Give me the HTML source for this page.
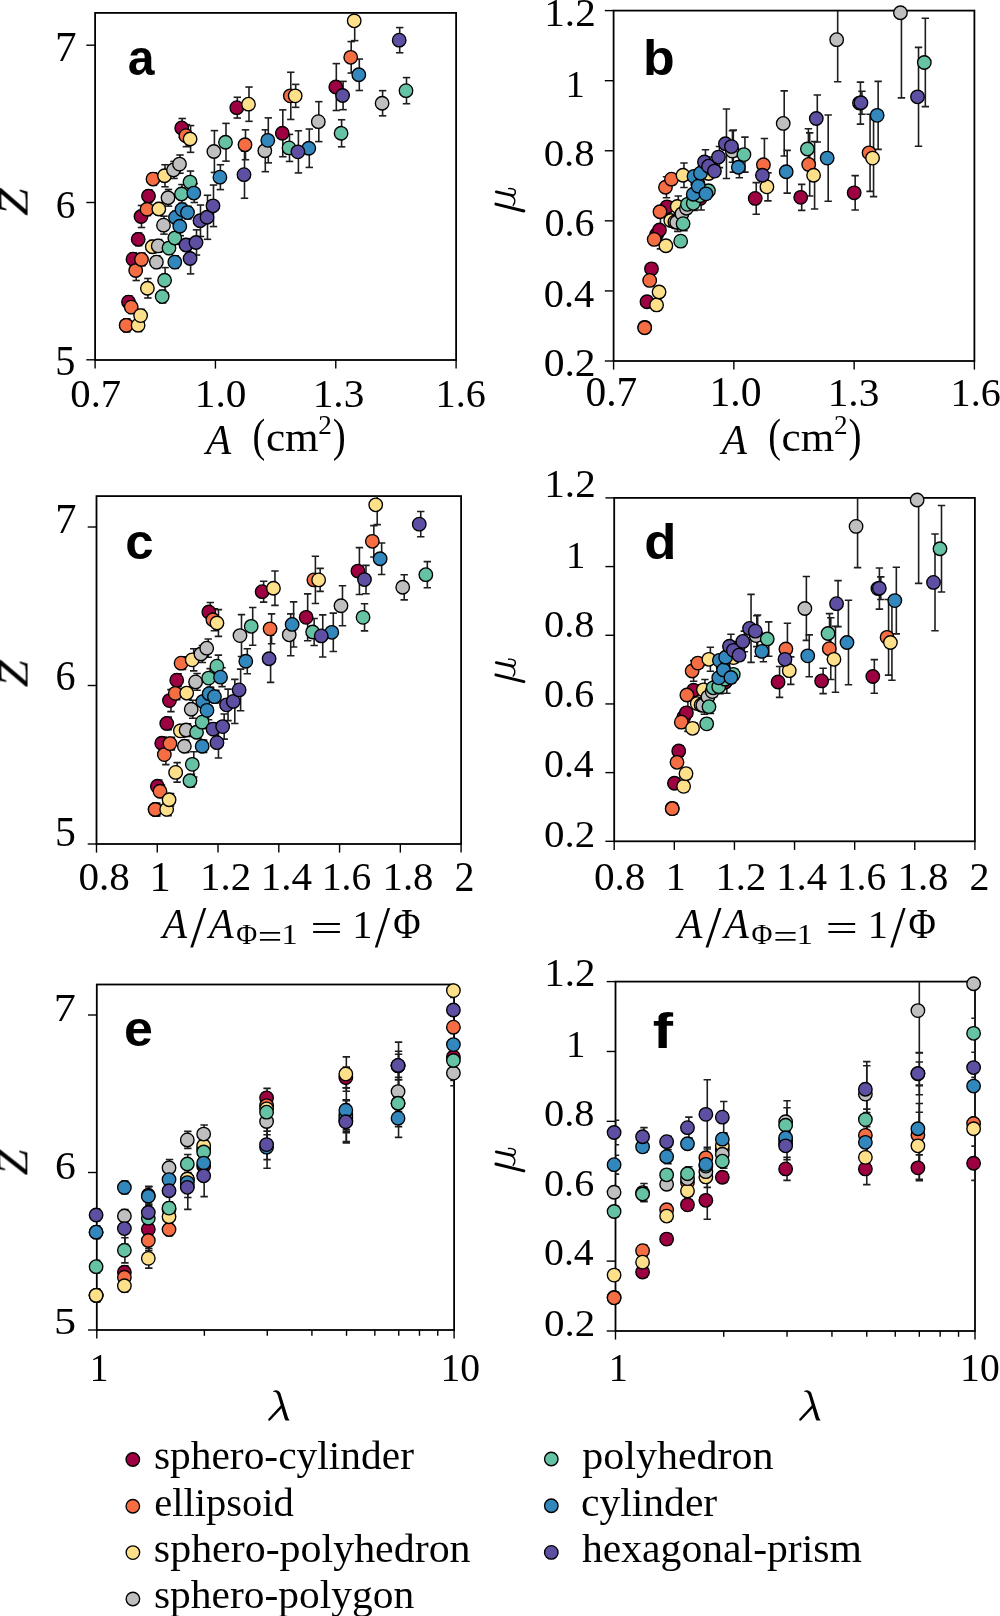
<!DOCTYPE html>
<html><head><meta charset="utf-8"><style>
html,body{margin:0;padding:0;background:#fff;}
svg{display:block;}

</style></head><body>
<svg width="1000" height="1616" viewBox="0 0 1000 1616">
<rect width="1000" height="1616" fill="#fff"/>
<rect x="95.10" y="12.90" width="361.00" height="347.10" fill="none" stroke="#000" stroke-width="1.8"/>
<rect x="613.60" y="10.60" width="360.80" height="350.40" fill="none" stroke="#000" stroke-width="1.8"/>
<rect x="96.50" y="496.10" width="364.60" height="347.90" fill="none" stroke="#000" stroke-width="1.8"/>
<rect x="614.20" y="497.90" width="360.70" height="343.40" fill="none" stroke="#000" stroke-width="1.8"/>
<rect x="96.80" y="984.50" width="357.30" height="345.50" fill="none" stroke="#000" stroke-width="1.8"/>
<rect x="615.50" y="981.60" width="359.50" height="349.40" fill="none" stroke="#000" stroke-width="1.8"/>
<line x1="86.30" y1="359.80" x2="95.10" y2="359.80" stroke="#000" stroke-width="1.4"/>
<line x1="86.30" y1="202.50" x2="95.10" y2="202.50" stroke="#000" stroke-width="1.4"/>
<line x1="86.30" y1="45.20" x2="95.10" y2="45.20" stroke="#000" stroke-width="1.4"/>
<line x1="95.10" y1="360.00" x2="95.10" y2="368.60" stroke="#000" stroke-width="1.4"/>
<line x1="215.43" y1="360.00" x2="215.43" y2="368.60" stroke="#000" stroke-width="1.4"/>
<line x1="335.77" y1="360.00" x2="335.77" y2="368.60" stroke="#000" stroke-width="1.4"/>
<line x1="456.10" y1="360.00" x2="456.10" y2="368.60" stroke="#000" stroke-width="1.4"/>
<line x1="604.80" y1="361.00" x2="613.60" y2="361.00" stroke="#000" stroke-width="1.4"/>
<line x1="604.80" y1="290.92" x2="613.60" y2="290.92" stroke="#000" stroke-width="1.4"/>
<line x1="604.80" y1="220.84" x2="613.60" y2="220.84" stroke="#000" stroke-width="1.4"/>
<line x1="604.80" y1="150.76" x2="613.60" y2="150.76" stroke="#000" stroke-width="1.4"/>
<line x1="604.80" y1="80.68" x2="613.60" y2="80.68" stroke="#000" stroke-width="1.4"/>
<line x1="604.80" y1="10.60" x2="613.60" y2="10.60" stroke="#000" stroke-width="1.4"/>
<line x1="613.60" y1="361.00" x2="613.60" y2="369.60" stroke="#000" stroke-width="1.4"/>
<line x1="733.87" y1="361.00" x2="733.87" y2="369.60" stroke="#000" stroke-width="1.4"/>
<line x1="854.13" y1="361.00" x2="854.13" y2="369.60" stroke="#000" stroke-width="1.4"/>
<line x1="974.40" y1="361.00" x2="974.40" y2="369.60" stroke="#000" stroke-width="1.4"/>
<line x1="87.70" y1="844.00" x2="96.50" y2="844.00" stroke="#000" stroke-width="1.4"/>
<line x1="87.70" y1="685.50" x2="96.50" y2="685.50" stroke="#000" stroke-width="1.4"/>
<line x1="87.70" y1="527.00" x2="96.50" y2="527.00" stroke="#000" stroke-width="1.4"/>
<line x1="96.50" y1="844.00" x2="96.50" y2="852.60" stroke="#000" stroke-width="1.4"/>
<line x1="157.27" y1="844.00" x2="157.27" y2="852.60" stroke="#000" stroke-width="1.4"/>
<line x1="218.03" y1="844.00" x2="218.03" y2="852.60" stroke="#000" stroke-width="1.4"/>
<line x1="278.80" y1="844.00" x2="278.80" y2="852.60" stroke="#000" stroke-width="1.4"/>
<line x1="339.57" y1="844.00" x2="339.57" y2="852.60" stroke="#000" stroke-width="1.4"/>
<line x1="400.33" y1="844.00" x2="400.33" y2="852.60" stroke="#000" stroke-width="1.4"/>
<line x1="461.10" y1="844.00" x2="461.10" y2="852.60" stroke="#000" stroke-width="1.4"/>
<line x1="605.40" y1="841.30" x2="614.20" y2="841.30" stroke="#000" stroke-width="1.4"/>
<line x1="605.40" y1="772.62" x2="614.20" y2="772.62" stroke="#000" stroke-width="1.4"/>
<line x1="605.40" y1="703.94" x2="614.20" y2="703.94" stroke="#000" stroke-width="1.4"/>
<line x1="605.40" y1="635.26" x2="614.20" y2="635.26" stroke="#000" stroke-width="1.4"/>
<line x1="605.40" y1="566.58" x2="614.20" y2="566.58" stroke="#000" stroke-width="1.4"/>
<line x1="605.40" y1="497.90" x2="614.20" y2="497.90" stroke="#000" stroke-width="1.4"/>
<line x1="614.20" y1="841.30" x2="614.20" y2="849.90" stroke="#000" stroke-width="1.4"/>
<line x1="674.32" y1="841.30" x2="674.32" y2="849.90" stroke="#000" stroke-width="1.4"/>
<line x1="734.43" y1="841.30" x2="734.43" y2="849.90" stroke="#000" stroke-width="1.4"/>
<line x1="794.55" y1="841.30" x2="794.55" y2="849.90" stroke="#000" stroke-width="1.4"/>
<line x1="854.67" y1="841.30" x2="854.67" y2="849.90" stroke="#000" stroke-width="1.4"/>
<line x1="914.78" y1="841.30" x2="914.78" y2="849.90" stroke="#000" stroke-width="1.4"/>
<line x1="974.90" y1="841.30" x2="974.90" y2="849.90" stroke="#000" stroke-width="1.4"/>
<line x1="88.00" y1="1330.00" x2="96.80" y2="1330.00" stroke="#000" stroke-width="1.4"/>
<line x1="88.00" y1="1172.50" x2="96.80" y2="1172.50" stroke="#000" stroke-width="1.4"/>
<line x1="88.00" y1="1015.00" x2="96.80" y2="1015.00" stroke="#000" stroke-width="1.4"/>
<line x1="96.80" y1="1330.00" x2="96.80" y2="1338.60" stroke="#000" stroke-width="1.4"/>
<line x1="454.10" y1="1330.00" x2="454.10" y2="1338.60" stroke="#000" stroke-width="1.4"/>
<line x1="204.36" y1="1330.00" x2="204.36" y2="1335.80" stroke="#000" stroke-width="1.4"/>
<line x1="267.28" y1="1330.00" x2="267.28" y2="1335.80" stroke="#000" stroke-width="1.4"/>
<line x1="311.92" y1="1330.00" x2="311.92" y2="1335.80" stroke="#000" stroke-width="1.4"/>
<line x1="346.54" y1="1330.00" x2="346.54" y2="1335.80" stroke="#000" stroke-width="1.4"/>
<line x1="374.83" y1="1330.00" x2="374.83" y2="1335.80" stroke="#000" stroke-width="1.4"/>
<line x1="398.75" y1="1330.00" x2="398.75" y2="1335.80" stroke="#000" stroke-width="1.4"/>
<line x1="419.47" y1="1330.00" x2="419.47" y2="1335.80" stroke="#000" stroke-width="1.4"/>
<line x1="437.75" y1="1330.00" x2="437.75" y2="1335.80" stroke="#000" stroke-width="1.4"/>
<line x1="606.70" y1="1331.00" x2="615.50" y2="1331.00" stroke="#000" stroke-width="1.4"/>
<line x1="606.70" y1="1261.12" x2="615.50" y2="1261.12" stroke="#000" stroke-width="1.4"/>
<line x1="606.70" y1="1191.24" x2="615.50" y2="1191.24" stroke="#000" stroke-width="1.4"/>
<line x1="606.70" y1="1121.36" x2="615.50" y2="1121.36" stroke="#000" stroke-width="1.4"/>
<line x1="606.70" y1="1051.48" x2="615.50" y2="1051.48" stroke="#000" stroke-width="1.4"/>
<line x1="606.70" y1="981.60" x2="615.50" y2="981.60" stroke="#000" stroke-width="1.4"/>
<line x1="615.50" y1="1331.00" x2="615.50" y2="1339.60" stroke="#000" stroke-width="1.4"/>
<line x1="975.00" y1="1331.00" x2="975.00" y2="1339.60" stroke="#000" stroke-width="1.4"/>
<line x1="723.72" y1="1331.00" x2="723.72" y2="1336.80" stroke="#000" stroke-width="1.4"/>
<line x1="787.03" y1="1331.00" x2="787.03" y2="1336.80" stroke="#000" stroke-width="1.4"/>
<line x1="831.94" y1="1331.00" x2="831.94" y2="1336.80" stroke="#000" stroke-width="1.4"/>
<line x1="866.78" y1="1331.00" x2="866.78" y2="1336.80" stroke="#000" stroke-width="1.4"/>
<line x1="895.25" y1="1331.00" x2="895.25" y2="1336.80" stroke="#000" stroke-width="1.4"/>
<line x1="919.31" y1="1331.00" x2="919.31" y2="1336.80" stroke="#000" stroke-width="1.4"/>
<line x1="940.16" y1="1331.00" x2="940.16" y2="1336.80" stroke="#000" stroke-width="1.4"/>
<line x1="958.55" y1="1331.00" x2="958.55" y2="1336.80" stroke="#000" stroke-width="1.4"/>
<g style="opacity:0.999"><text transform="matrix(1.0545 0.0000 0.0000 1.0430 55.1000 61.1000)" font-family="Liberation Serif" font-size="41">7</text>
<text transform="matrix(0.9600 0.0000 0.0000 1.0018 55.8200 218.1495)" font-family="Liberation Serif" font-size="41">6</text>
<text transform="matrix(0.9818 0.0000 0.0000 1.0222 55.3455 374.5444)" font-family="Liberation Serif" font-size="41">5</text>
<text transform="matrix(0.9938 0.0000 0.0000 0.9910 70.3093 406.5045)" font-family="Liberation Serif" font-size="41">0.7</text>
<text transform="matrix(1.0076 0.0000 0.0000 0.9910 194.7735 406.5045)" font-family="Liberation Serif" font-size="41">1.0</text>
<text transform="matrix(1.0076 0.0000 0.0000 0.9964 312.6735 406.5018)" font-family="Liberation Serif" font-size="41">1.3</text>
<text transform="matrix(0.9806 0.0000 0.0000 0.9964 435.5677 406.5018)" font-family="Liberation Serif" font-size="41">1.6</text>
<text transform="matrix(1.0073 0.0000 0.0000 1.0481 206.0664 453.5000)" font-family="Liberation Serif" font-style="italic" font-size="41">A</text>
<text transform="matrix(0.9333 0.0000 0.0000 1.1297 252.5667 451.1149)" font-family="Liberation Serif" font-size="41">(</text>
<text transform="matrix(1.0521 0.0000 0.0000 1.0359 265.9219 450.7410)" font-family="Liberation Serif" font-size="41">cm</text>
<text transform="matrix(0.9362 0.0000 0.0000 0.9195 318.3298 434.2000)" font-family="Liberation Serif" font-size="29">2</text>
<text transform="matrix(0.9524 0.0000 0.0000 1.1297 332.8095 451.1149)" font-family="Liberation Serif" font-size="41">)</text>
<text transform="matrix(0.0000 -1.2133 1.0430 0.0000 27.3000 215.9067)" font-family="Liberation Serif" font-style="italic" font-size="41">Z</text>
<text transform="matrix(0.9431 0.0000 0.0000 0.9821 127.7853 75.3089)" font-family="Liberation Sans" font-weight="bold" font-size="51">a</text>
<text transform="matrix(1.0044 0.0000 0.0000 1.0000 544.2846 26.3000)" font-family="Liberation Serif" font-size="41">1.2</text>
<text transform="matrix(0.9448 0.0000 0.0000 0.9481 565.5931 96.8000)" font-family="Liberation Serif" font-size="41">1</text>
<text transform="matrix(0.9948 0.0000 0.0000 0.9261 543.7078 165.8369)" font-family="Liberation Serif" font-size="41">0.8</text>
<text transform="matrix(0.9794 0.0000 0.0000 0.9694 544.4309 236.0153)" font-family="Liberation Serif" font-size="41">0.6</text>
<text transform="matrix(0.9837 0.0000 0.0000 0.9730 543.7245 306.5135)" font-family="Liberation Serif" font-size="41">0.4</text>
<text transform="matrix(1.0147 0.0000 0.0000 0.9550 543.6779 375.5225)" font-family="Liberation Serif" font-size="41">0.2</text>
<text transform="matrix(1.0103 0.0000 0.0000 1.0090 585.4845 406.4955)" font-family="Liberation Serif" font-size="41">0.7</text>
<text transform="matrix(1.0162 0.0000 0.0000 1.0090 709.4432 406.4955)" font-family="Liberation Serif" font-size="41">1.0</text>
<text transform="matrix(1.0097 0.0000 0.0000 0.9818 827.6659 406.4091)" font-family="Liberation Serif" font-size="41">1.3</text>
<text transform="matrix(0.9806 0.0000 0.0000 0.9818 950.5677 406.4091)" font-family="Liberation Serif" font-size="41">1.6</text>
<text transform="matrix(1.0073 0.0000 0.0000 1.0481 721.6664 453.5000)" font-family="Liberation Serif" font-style="italic" font-size="41">A</text>
<text transform="matrix(0.9333 0.0000 0.0000 1.1297 768.1667 451.1149)" font-family="Liberation Serif" font-size="41">(</text>
<text transform="matrix(1.0521 0.0000 0.0000 1.0359 781.5219 450.7410)" font-family="Liberation Serif" font-size="41">cm</text>
<text transform="matrix(0.9362 0.0000 0.0000 0.9195 833.9298 434.2000)" font-family="Liberation Serif" font-size="29">2</text>
<text transform="matrix(0.9524 0.0000 0.0000 1.1297 848.4095 451.1149)" font-family="Liberation Serif" font-size="41">)</text>
<text transform="matrix(1.0175 0.0000 0.0000 0.9813 642.8932 75.1093)" font-family="Liberation Sans" font-weight="bold" font-size="51">b</text>
<text transform="matrix(1.0364 0.0000 0.0000 1.0318 55.2500 532.7000)" font-family="Liberation Serif" font-size="41">7</text>
<text transform="matrix(0.9771 0.0000 0.0000 1.0239 55.4900 689.9440)" font-family="Liberation Serif" font-size="41">6</text>
<text transform="matrix(1.0182 0.0000 0.0000 1.0444 54.9545 846.2389)" font-family="Liberation Serif" font-size="41">5</text>
<text transform="matrix(1.0031 0.0000 0.0000 0.9838 78.4953 890.3081)" font-family="Liberation Serif" font-size="41">0.8</text>
<text transform="matrix(1.0345 0.0000 0.0000 1.0111 149.3793 890.8000)" font-family="Liberation Serif" font-size="41">1</text>
<text transform="matrix(0.9978 0.0000 0.0000 0.9927 200.1077 890.3036)" font-family="Liberation Serif" font-size="41">1.2</text>
<text transform="matrix(1.0021 0.0000 0.0000 0.9927 260.6926 890.3036)" font-family="Liberation Serif" font-size="41">1.4</text>
<text transform="matrix(0.9656 0.0000 0.0000 0.9927 321.7204 890.3036)" font-family="Liberation Serif" font-size="41">1.6</text>
<text transform="matrix(0.9946 0.0000 0.0000 0.9838 382.5189 890.3081)" font-family="Liberation Serif" font-size="41">1.8</text>
<text transform="matrix(0.9758 0.0000 0.0000 1.0111 454.3924 890.8000)" font-family="Liberation Serif" font-size="41">2</text>
<text transform="matrix(0.9818 0.0000 0.0000 1.0444 162.4091 937.5000)" font-family="Liberation Serif" font-style="italic" font-size="41">A</text>
<text transform="matrix(1.4044 0.0000 0.0000 1.4459 190.2000 946.8385)" font-family="Liberation Serif" font-size="41">/</text>
<text transform="matrix(0.9818 0.0000 0.0000 1.0444 208.9091 937.5000)" font-family="Liberation Serif" font-style="italic" font-size="41">A</text>
<text transform="matrix(0.9870 0.0000 0.0000 1.0421 236.2130 943.8000)" font-family="Liberation Serif" font-size="29">Φ</text>
<text transform="matrix(1.4963 0.0000 0.0000 1.1862 257.7556 947.9172)" font-family="Liberation Serif" font-size="29">=</text>
<text transform="matrix(1.1122 0.0000 0.0000 0.9895 281.4195 943.5000)" font-family="Liberation Serif" font-size="29">1</text>
<text transform="matrix(1.4053 0.0000 0.0000 0.9463 310.1895 940.5439)" font-family="Liberation Serif" font-size="41">=</text>
<text transform="matrix(0.9862 0.0000 0.0000 1.0000 352.2483 938.0000)" font-family="Liberation Serif" font-size="41">1</text>
<text transform="matrix(1.3511 0.0000 0.0000 1.4569 374.8000 947.1358)" font-family="Liberation Serif" font-size="41">/</text>
<text transform="matrix(0.9127 0.0000 0.0000 1.0430 393.1591 938.0000)" font-family="Liberation Serif" font-size="41">Φ</text>
<text transform="matrix(0.0000 -1.1911 1.0430 0.0000 27.3000 687.3956)" font-family="Liberation Serif" font-style="italic" font-size="41">Z</text>
<text transform="matrix(1.0020 0.0000 0.0000 0.9643 125.1960 558.7179)" font-family="Liberation Sans" font-weight="bold" font-size="51">c</text>
<text transform="matrix(1.0044 0.0000 0.0000 0.9745 544.2846 497.3127)" font-family="Liberation Serif" font-size="41">1.2</text>
<text transform="matrix(0.9448 0.0000 0.0000 0.9074 565.8931 567.6000)" font-family="Liberation Serif" font-size="41">1</text>
<text transform="matrix(0.9845 0.0000 0.0000 0.9369 544.0233 636.5315)" font-family="Liberation Serif" font-size="41">0.8</text>
<text transform="matrix(0.9794 0.0000 0.0000 0.9730 544.0309 707.3135)" font-family="Liberation Serif" font-size="41">0.6</text>
<text transform="matrix(0.9694 0.0000 0.0000 0.9946 544.0459 777.3027)" font-family="Liberation Serif" font-size="41">0.4</text>
<text transform="matrix(1.0000 0.0000 0.0000 0.9189 544.0000 846.6405)" font-family="Liberation Serif" font-size="41">0.2</text>
<text transform="matrix(1.0073 0.0000 0.0000 0.9622 593.8891 889.5189)" font-family="Liberation Serif" font-size="41">0.8</text>
<text transform="matrix(0.9931 0.0000 0.0000 0.9889 665.5241 890.0000)" font-family="Liberation Serif" font-size="41">1</text>
<text transform="matrix(0.9890 0.0000 0.0000 0.9709 715.5385 889.5145)" font-family="Liberation Serif" font-size="41">1.2</text>
<text transform="matrix(0.9915 0.0000 0.0000 0.9709 776.2298 889.5145)" font-family="Liberation Serif" font-size="41">1.4</text>
<text transform="matrix(0.9656 0.0000 0.0000 0.9709 836.7204 889.5145)" font-family="Liberation Serif" font-size="41">1.6</text>
<text transform="matrix(0.9946 0.0000 0.0000 0.9622 897.5189 889.5189)" font-family="Liberation Serif" font-size="41">1.8</text>
<text transform="matrix(0.9758 0.0000 0.0000 0.9889 969.3924 890.0000)" font-family="Liberation Serif" font-size="41">2</text>
<text transform="matrix(0.9818 0.0000 0.0000 1.0444 677.8091 937.7000)" font-family="Liberation Serif" font-style="italic" font-size="41">A</text>
<text transform="matrix(1.4044 0.0000 0.0000 1.4459 705.6000 947.0385)" font-family="Liberation Serif" font-size="41">/</text>
<text transform="matrix(0.9818 0.0000 0.0000 1.0444 724.3091 937.7000)" font-family="Liberation Serif" font-style="italic" font-size="41">A</text>
<text transform="matrix(0.9870 0.0000 0.0000 1.0421 751.6130 944.0000)" font-family="Liberation Serif" font-size="29">Φ</text>
<text transform="matrix(1.4963 0.0000 0.0000 1.1862 773.1556 948.1172)" font-family="Liberation Serif" font-size="29">=</text>
<text transform="matrix(1.1122 0.0000 0.0000 0.9895 796.8195 943.7000)" font-family="Liberation Serif" font-size="29">1</text>
<text transform="matrix(1.4053 0.0000 0.0000 0.9463 825.5895 940.7439)" font-family="Liberation Serif" font-size="41">=</text>
<text transform="matrix(0.9862 0.0000 0.0000 1.0000 867.6483 938.2000)" font-family="Liberation Serif" font-size="41">1</text>
<text transform="matrix(1.3511 0.0000 0.0000 1.4569 890.2000 947.3358)" font-family="Liberation Serif" font-size="41">/</text>
<text transform="matrix(0.9127 0.0000 0.0000 1.0430 908.5591 938.2000)" font-family="Liberation Serif" font-size="41">Φ</text>
<text transform="matrix(1.0330 0.0000 0.0000 0.9867 644.3340 558.9067)" font-family="Liberation Sans" font-weight="bold" font-size="51">d</text>
<text transform="matrix(1.0788 0.0000 0.0000 0.9981 53.8333 1021.2000)" font-family="Liberation Serif" font-size="41">7</text>
<text transform="matrix(1.0171 0.0000 0.0000 0.9798 55.0200 1179.0550)" font-family="Liberation Serif" font-size="41">6</text>
<text transform="matrix(1.0788 0.0000 0.0000 0.9481 54.1030 1333.8630)" font-family="Liberation Serif" font-size="41">5</text>
<text transform="matrix(0.9103 0.0000 0.0000 0.9852 89.8138 1380.6000)" font-family="Liberation Serif" font-size="41">1</text>
<text transform="matrix(0.9667 0.0000 0.0000 0.9927 440.4167 1381.0518)" font-family="Liberation Serif" font-size="41">10</text>
<text transform="matrix(0.0000 -1.1422 1.0617 0.0000 27.8000 1175.4711)" font-family="Liberation Serif" font-style="italic" font-size="41">Z</text>
<text transform="matrix(1.0204 0.0000 0.0000 0.9714 123.9592 1045.7143)" font-family="Liberation Sans" font-weight="bold" font-size="51">e</text>
<text transform="matrix(0.9978 0.0000 0.0000 0.9745 544.3077 986.3127)" font-family="Liberation Serif" font-size="41">1.2</text>
<text transform="matrix(0.9448 0.0000 0.0000 0.9222 565.8931 1056.7000)" font-family="Liberation Serif" font-size="41">1</text>
<text transform="matrix(0.9845 0.0000 0.0000 0.9405 544.0233 1125.6297)" font-family="Liberation Serif" font-size="41">0.8</text>
<text transform="matrix(0.9794 0.0000 0.0000 0.9333 544.0309 1196.0333)" font-family="Liberation Serif" font-size="41">0.6</text>
<text transform="matrix(0.9694 0.0000 0.0000 0.9189 544.0459 1265.4405)" font-family="Liberation Serif" font-size="41">0.4</text>
<text transform="matrix(1.0000 0.0000 0.0000 0.9189 544.0000 1335.8405)" font-family="Liberation Serif" font-size="41">0.2</text>
<text transform="matrix(0.9310 0.0000 0.0000 0.9630 608.7414 1381.0000)" font-family="Liberation Serif" font-size="41">1</text>
<text transform="matrix(0.9667 0.0000 0.0000 0.9927 960.1167 1381.0518)" font-family="Liberation Serif" font-size="41">10</text>
<text transform="matrix(1.1938 0.0000 0.0000 0.9946 652.7046 1048.0000)" font-family="Liberation Sans" font-weight="bold" font-size="51">f</text>
<text transform="matrix(1.0365 0 0 1 153.886 1468.700)" font-family="Liberation Serif" font-size="40">sphero-cylinder</text>
<text transform="matrix(1.0129 0 0 1 154.181 1516.000)" font-family="Liberation Serif" font-size="40">ellipsoid</text>
<text transform="matrix(1.0485 0 0 1 153.865 1561.800)" font-family="Liberation Serif" font-size="40">sphero-polyhedron</text>
<text transform="matrix(1.0376 0 0 1 153.884 1608.300)" font-family="Liberation Serif" font-size="40">sphero-polygon</text>
<text transform="matrix(1.0512 0 0 1 582.212 1468.700)" font-family="Liberation Serif" font-size="40">polyhedron</text>
<text transform="matrix(1.0398 0 0 1 580.940 1516.000)" font-family="Liberation Serif" font-size="40">cylinder</text>
<text transform="matrix(1.0416 0 0 1 581.979 1561.800)" font-family="Liberation Serif" font-size="40">hexagonal-prism</text></g>
<circle cx="132.8" cy="1459.5" r="6.75" fill="#9e0142" stroke="#000" stroke-width="1.35"/>
<circle cx="132.8" cy="1506.2" r="6.75" fill="#f46d43" stroke="#000" stroke-width="1.35"/>
<circle cx="132.9" cy="1552.6" r="6.75" fill="#fee08b" stroke="#000" stroke-width="1.35"/>
<circle cx="132.9" cy="1599.0" r="6.75" fill="#bfbfbf" stroke="#000" stroke-width="1.35"/>
<circle cx="551.3" cy="1459.0" r="6.75" fill="#66c2a5" stroke="#000" stroke-width="1.35"/>
<circle cx="551.3" cy="1505.7" r="6.75" fill="#3288bd" stroke="#000" stroke-width="1.35"/>
<circle cx="551.3" cy="1552.4" r="6.75" fill="#5e4fa2" stroke="#000" stroke-width="1.35"/>
<g transform="translate(0,0.0)" fill="none" stroke="#000" stroke-linecap="round"><path d="M495.9,204.1 L523.9,211.0" stroke-width="2.9"/><path d="M496.3,191.9 L512.6,195.5" stroke-width="2.8"/><path d="M512.4,195.6 C516.0,195.0 516.3,190.4 513.4,189.2 C511.6,188.5 509.8,188.3 508.6,188.6" stroke-width="1.4"/><path d="M511.4,196.0 C515.2,197.6 516.0,201.8 513.2,205.4" stroke-width="1.4"/></g>
<g transform="translate(0,470.7)" fill="none" stroke="#000" stroke-linecap="round"><path d="M495.9,204.1 L523.9,211.0" stroke-width="2.9"/><path d="M496.3,191.9 L512.6,195.5" stroke-width="2.8"/><path d="M512.4,195.6 C516.0,195.0 516.3,190.4 513.4,189.2 C511.6,188.5 509.8,188.3 508.6,188.6" stroke-width="1.4"/><path d="M511.4,196.0 C515.2,197.6 516.0,201.8 513.2,205.4" stroke-width="1.4"/></g>
<g transform="translate(0,959.9)" fill="none" stroke="#000" stroke-linecap="round"><path d="M495.9,204.1 L523.9,211.0" stroke-width="2.9"/><path d="M496.3,191.9 L512.6,195.5" stroke-width="2.8"/><path d="M512.4,195.6 C516.0,195.0 516.3,190.4 513.4,189.2 C511.6,188.5 509.8,188.3 508.6,188.6" stroke-width="1.4"/><path d="M511.4,196.0 C515.2,197.6 516.0,201.8 513.2,205.4" stroke-width="1.4"/></g>
<g transform="translate(0.0,0)"><path d="M273.0,1391.2 C275.5,1389.4 278.6,1389.9 280.3,1393.0 L288.0,1417.8 C288.5,1419.0 289.2,1419.6 289.6,1420.4 L285.6,1420.6 C285.2,1420.0 284.8,1419.4 284.5,1418.6 L278.0,1396.0 C277.0,1392.8 275.6,1391.6 273.4,1391.9 Z" fill="#000"/><path d="M281.6,1406.4 L269.4,1419.5" fill="none" stroke="#000" stroke-width="2.45" stroke-linecap="round"/></g>
<g transform="translate(531.0,0)"><path d="M273.0,1391.2 C275.5,1389.4 278.6,1389.9 280.3,1393.0 L288.0,1417.8 C288.5,1419.0 289.2,1419.6 289.6,1420.4 L285.6,1420.6 C285.2,1420.0 284.8,1419.4 284.5,1418.6 L278.0,1396.0 C277.0,1392.8 275.6,1391.6 273.4,1391.9 Z" fill="#000"/><path d="M281.6,1406.4 L269.4,1419.5" fill="none" stroke="#000" stroke-width="2.45" stroke-linecap="round"/></g>
<clipPath id="clipa"><rect x="95.10" y="12.90" width="361.00" height="347.10"/></clipPath>
<g stroke="#1e1e1e" stroke-width="1.6" fill="none" clip-path="url(#clipa)"><line x1="126.70" y1="319.06" x2="126.70" y2="331.64"/><line x1="123.00" y1="319.06" x2="130.40" y2="319.06"/><line x1="123.00" y1="331.64" x2="130.40" y2="331.64"/><line x1="129.00" y1="295.78" x2="129.00" y2="308.36"/><line x1="125.30" y1="295.78" x2="132.70" y2="295.78"/><line x1="125.30" y1="308.36" x2="132.70" y2="308.36"/><line x1="133.50" y1="252.84" x2="133.50" y2="265.42"/><line x1="129.80" y1="252.84" x2="137.20" y2="252.84"/><line x1="129.80" y1="265.42" x2="137.20" y2="265.42"/><line x1="138.70" y1="233.02" x2="138.70" y2="245.60"/><line x1="135.00" y1="233.02" x2="142.40" y2="233.02"/><line x1="135.00" y1="245.60" x2="142.40" y2="245.60"/><line x1="141.50" y1="205.49" x2="141.50" y2="227.51"/><line x1="137.80" y1="205.49" x2="145.20" y2="205.49"/><line x1="137.80" y1="227.51" x2="145.20" y2="227.51"/><line x1="149.00" y1="189.76" x2="149.00" y2="202.34"/><line x1="145.30" y1="189.76" x2="152.70" y2="189.76"/><line x1="145.30" y1="202.34" x2="152.70" y2="202.34"/><line x1="182.20" y1="118.50" x2="182.20" y2="137.38"/><line x1="178.50" y1="118.50" x2="185.90" y2="118.50"/><line x1="178.50" y1="137.38" x2="185.90" y2="137.38"/><line x1="237.30" y1="97.27" x2="237.30" y2="118.03"/><line x1="233.60" y1="97.27" x2="241.00" y2="97.27"/><line x1="233.60" y1="118.03" x2="241.00" y2="118.03"/><line x1="282.80" y1="109.85" x2="282.80" y2="156.73"/><line x1="279.10" y1="109.85" x2="286.50" y2="109.85"/><line x1="279.10" y1="156.73" x2="286.50" y2="156.73"/><line x1="336.30" y1="63.60" x2="336.30" y2="110.48"/><line x1="332.60" y1="63.60" x2="340.00" y2="63.60"/><line x1="332.60" y1="110.48" x2="340.00" y2="110.48"/><line x1="126.70" y1="319.06" x2="126.70" y2="331.64"/><line x1="123.00" y1="319.06" x2="130.40" y2="319.06"/><line x1="123.00" y1="331.64" x2="130.40" y2="331.64"/><line x1="131.70" y1="300.81" x2="131.70" y2="313.40"/><line x1="128.00" y1="300.81" x2="135.40" y2="300.81"/><line x1="128.00" y1="313.40" x2="135.40" y2="313.40"/><line x1="136.20" y1="260.39" x2="136.20" y2="280.52"/><line x1="132.50" y1="260.39" x2="139.90" y2="260.39"/><line x1="132.50" y1="280.52" x2="139.90" y2="280.52"/><line x1="142.00" y1="253.15" x2="142.00" y2="265.73"/><line x1="138.30" y1="253.15" x2="145.70" y2="253.15"/><line x1="138.30" y1="265.73" x2="145.70" y2="265.73"/><line x1="147.50" y1="202.97" x2="147.50" y2="215.56"/><line x1="143.80" y1="202.97" x2="151.20" y2="202.97"/><line x1="143.80" y1="215.56" x2="151.20" y2="215.56"/><line x1="153.50" y1="172.77" x2="153.50" y2="185.35"/><line x1="149.80" y1="172.77" x2="157.20" y2="172.77"/><line x1="149.80" y1="185.35" x2="157.20" y2="185.35"/><line x1="186.40" y1="124.64" x2="186.40" y2="146.66"/><line x1="182.70" y1="124.64" x2="190.10" y2="124.64"/><line x1="182.70" y1="146.66" x2="190.10" y2="146.66"/><line x1="245.50" y1="129.83" x2="245.50" y2="159.71"/><line x1="241.80" y1="129.83" x2="249.20" y2="129.83"/><line x1="241.80" y1="159.71" x2="249.20" y2="159.71"/><line x1="290.80" y1="72.26" x2="290.80" y2="119.45"/><line x1="287.10" y1="72.26" x2="294.50" y2="72.26"/><line x1="287.10" y1="119.45" x2="294.50" y2="119.45"/><line x1="351.20" y1="41.58" x2="351.20" y2="73.04"/><line x1="347.50" y1="41.58" x2="354.90" y2="41.58"/><line x1="347.50" y1="73.04" x2="354.90" y2="73.04"/><line x1="138.60" y1="318.90" x2="138.60" y2="331.49"/><line x1="134.90" y1="318.90" x2="142.30" y2="318.90"/><line x1="134.90" y1="331.49" x2="142.30" y2="331.49"/><line x1="141.10" y1="309.31" x2="141.10" y2="321.89"/><line x1="137.40" y1="309.31" x2="144.80" y2="309.31"/><line x1="137.40" y1="321.89" x2="144.80" y2="321.89"/><line x1="147.90" y1="278.48" x2="147.90" y2="297.98"/><line x1="144.20" y1="278.48" x2="151.60" y2="278.48"/><line x1="144.20" y1="297.98" x2="151.60" y2="297.98"/><line x1="152.80" y1="240.41" x2="152.80" y2="252.99"/><line x1="149.10" y1="240.41" x2="156.50" y2="240.41"/><line x1="149.10" y1="252.99" x2="156.50" y2="252.99"/><line x1="159.30" y1="202.66" x2="159.30" y2="215.24"/><line x1="155.60" y1="202.66" x2="163.00" y2="202.66"/><line x1="155.60" y1="215.24" x2="163.00" y2="215.24"/><line x1="165.00" y1="164.75" x2="165.00" y2="186.77"/><line x1="161.30" y1="164.75" x2="168.70" y2="164.75"/><line x1="161.30" y1="186.77" x2="168.70" y2="186.77"/><line x1="190.60" y1="125.58" x2="190.60" y2="152.32"/><line x1="186.90" y1="125.58" x2="194.30" y2="125.58"/><line x1="186.90" y1="152.32" x2="194.30" y2="152.32"/><line x1="249.00" y1="87.04" x2="249.00" y2="121.33"/><line x1="245.30" y1="87.04" x2="252.70" y2="87.04"/><line x1="245.30" y1="121.33" x2="252.70" y2="121.33"/><line x1="295.70" y1="84.37" x2="295.70" y2="107.33"/><line x1="292.00" y1="84.37" x2="299.40" y2="84.37"/><line x1="292.00" y1="107.33" x2="299.40" y2="107.33"/><line x1="354.70" y1="12.90" x2="354.70" y2="40.64"/><line x1="351.00" y1="40.64" x2="358.40" y2="40.64"/><line x1="156.90" y1="255.82" x2="156.90" y2="268.41"/><line x1="153.20" y1="255.82" x2="160.60" y2="255.82"/><line x1="153.20" y1="268.41" x2="160.60" y2="268.41"/><line x1="158.70" y1="239.62" x2="158.70" y2="252.21"/><line x1="155.00" y1="239.62" x2="162.40" y2="239.62"/><line x1="155.00" y1="252.21" x2="162.40" y2="252.21"/><line x1="164.00" y1="216.19" x2="164.00" y2="234.12"/><line x1="160.30" y1="216.19" x2="167.70" y2="216.19"/><line x1="160.30" y1="234.12" x2="167.70" y2="234.12"/><line x1="168.50" y1="189.44" x2="168.50" y2="206.12"/><line x1="164.80" y1="189.44" x2="172.20" y2="189.44"/><line x1="164.80" y1="206.12" x2="172.20" y2="206.12"/><line x1="174.00" y1="161.44" x2="174.00" y2="178.43"/><line x1="170.30" y1="161.44" x2="177.70" y2="161.44"/><line x1="170.30" y1="178.43" x2="177.70" y2="178.43"/><line x1="180.00" y1="155.00" x2="180.00" y2="173.24"/><line x1="176.30" y1="155.00" x2="183.70" y2="155.00"/><line x1="176.30" y1="173.24" x2="183.70" y2="173.24"/><line x1="214.40" y1="130.61" x2="214.40" y2="172.46"/><line x1="210.70" y1="130.61" x2="218.10" y2="130.61"/><line x1="210.70" y1="172.46" x2="218.10" y2="172.46"/><line x1="265.30" y1="129.83" x2="265.30" y2="171.67"/><line x1="261.60" y1="129.83" x2="269.00" y2="129.83"/><line x1="261.60" y1="171.67" x2="269.00" y2="171.67"/><line x1="318.80" y1="101.67" x2="318.80" y2="141.62"/><line x1="315.10" y1="101.67" x2="322.50" y2="101.67"/><line x1="315.10" y1="141.62" x2="322.50" y2="141.62"/><line x1="382.60" y1="90.66" x2="382.60" y2="115.83"/><line x1="378.90" y1="90.66" x2="386.30" y2="90.66"/><line x1="378.90" y1="115.83" x2="386.30" y2="115.83"/><line x1="162.70" y1="290.27" x2="162.70" y2="302.86"/><line x1="159.00" y1="290.27" x2="166.40" y2="290.27"/><line x1="159.00" y1="302.86" x2="166.40" y2="302.86"/><line x1="165.10" y1="267.62" x2="165.10" y2="292.79"/><line x1="161.40" y1="267.62" x2="168.80" y2="267.62"/><line x1="161.40" y1="292.79" x2="168.80" y2="292.79"/><line x1="169.50" y1="241.82" x2="169.50" y2="254.41"/><line x1="165.80" y1="241.82" x2="173.20" y2="241.82"/><line x1="165.80" y1="254.41" x2="173.20" y2="254.41"/><line x1="175.30" y1="231.76" x2="175.30" y2="244.34"/><line x1="171.60" y1="231.76" x2="179.00" y2="231.76"/><line x1="171.60" y1="244.34" x2="179.00" y2="244.34"/><line x1="182.00" y1="184.57" x2="182.00" y2="203.44"/><line x1="178.30" y1="184.57" x2="185.70" y2="184.57"/><line x1="178.30" y1="203.44" x2="185.70" y2="203.44"/><line x1="190.50" y1="171.04" x2="190.50" y2="193.06"/><line x1="186.80" y1="171.04" x2="194.20" y2="171.04"/><line x1="186.80" y1="193.06" x2="194.20" y2="193.06"/><line x1="226.00" y1="123.38" x2="226.00" y2="161.13"/><line x1="222.30" y1="123.38" x2="229.70" y2="123.38"/><line x1="222.30" y1="161.13" x2="229.70" y2="161.13"/><line x1="289.50" y1="134.39" x2="289.50" y2="161.44"/><line x1="285.80" y1="134.39" x2="293.20" y2="134.39"/><line x1="285.80" y1="161.44" x2="293.20" y2="161.44"/><line x1="341.60" y1="119.76" x2="341.60" y2="146.82"/><line x1="337.90" y1="119.76" x2="345.30" y2="119.76"/><line x1="337.90" y1="146.82" x2="345.30" y2="146.82"/><line x1="406.50" y1="77.60" x2="406.50" y2="103.72"/><line x1="402.80" y1="77.60" x2="410.20" y2="77.60"/><line x1="402.80" y1="103.72" x2="410.20" y2="103.72"/><line x1="175.30" y1="255.82" x2="175.30" y2="268.41"/><line x1="171.60" y1="255.82" x2="179.00" y2="255.82"/><line x1="171.60" y1="268.41" x2="179.00" y2="268.41"/><line x1="176.00" y1="211.15" x2="176.00" y2="223.74"/><line x1="172.30" y1="211.15" x2="179.70" y2="211.15"/><line x1="172.30" y1="223.74" x2="179.70" y2="223.74"/><line x1="180.30" y1="216.81" x2="180.30" y2="235.69"/><line x1="176.60" y1="216.81" x2="184.00" y2="216.81"/><line x1="176.60" y1="235.69" x2="184.00" y2="235.69"/><line x1="182.50" y1="203.29" x2="182.50" y2="215.87"/><line x1="178.80" y1="203.29" x2="186.20" y2="203.29"/><line x1="178.80" y1="215.87" x2="186.20" y2="215.87"/><line x1="188.00" y1="206.28" x2="188.00" y2="218.86"/><line x1="184.30" y1="206.28" x2="191.70" y2="206.28"/><line x1="184.30" y1="218.86" x2="191.70" y2="218.86"/><line x1="194.30" y1="183.62" x2="194.30" y2="202.50"/><line x1="190.60" y1="183.62" x2="198.00" y2="183.62"/><line x1="190.60" y1="202.50" x2="198.00" y2="202.50"/><line x1="220.40" y1="164.75" x2="220.40" y2="189.60"/><line x1="216.70" y1="164.75" x2="224.10" y2="164.75"/><line x1="216.70" y1="189.60" x2="224.10" y2="189.60"/><line x1="268.30" y1="117.87" x2="268.30" y2="162.86"/><line x1="264.60" y1="117.87" x2="272.00" y2="117.87"/><line x1="264.60" y1="162.86" x2="272.00" y2="162.86"/><line x1="309.30" y1="129.04" x2="309.30" y2="167.42"/><line x1="305.60" y1="129.04" x2="313.00" y2="129.04"/><line x1="305.60" y1="167.42" x2="313.00" y2="167.42"/><line x1="359.30" y1="59.04" x2="359.30" y2="90.50"/><line x1="355.60" y1="59.04" x2="363.00" y2="59.04"/><line x1="355.60" y1="90.50" x2="363.00" y2="90.50"/><line x1="186.50" y1="238.68" x2="186.50" y2="251.26"/><line x1="182.80" y1="238.68" x2="190.20" y2="238.68"/><line x1="182.80" y1="251.26" x2="190.20" y2="251.26"/><line x1="190.60" y1="243.08" x2="190.60" y2="273.91"/><line x1="186.90" y1="243.08" x2="194.30" y2="243.08"/><line x1="186.90" y1="273.91" x2="194.30" y2="273.91"/><line x1="196.50" y1="229.87" x2="196.50" y2="255.04"/><line x1="192.80" y1="229.87" x2="200.20" y2="229.87"/><line x1="192.80" y1="255.04" x2="200.20" y2="255.04"/><line x1="200.50" y1="205.02" x2="200.50" y2="236.48"/><line x1="196.80" y1="205.02" x2="204.20" y2="205.02"/><line x1="196.80" y1="236.48" x2="204.20" y2="236.48"/><line x1="207.50" y1="195.26" x2="207.50" y2="239.31"/><line x1="203.80" y1="195.26" x2="211.20" y2="195.26"/><line x1="203.80" y1="239.31" x2="211.20" y2="239.31"/><line x1="213.50" y1="185.04" x2="213.50" y2="226.57"/><line x1="209.80" y1="185.04" x2="217.20" y2="185.04"/><line x1="209.80" y1="226.57" x2="217.20" y2="226.57"/><line x1="244.50" y1="151.06" x2="244.50" y2="198.25"/><line x1="240.80" y1="151.06" x2="248.20" y2="151.06"/><line x1="240.80" y1="198.25" x2="248.20" y2="198.25"/><line x1="298.40" y1="130.77" x2="298.40" y2="172.93"/><line x1="294.70" y1="130.77" x2="302.10" y2="130.77"/><line x1="294.70" y1="172.93" x2="302.10" y2="172.93"/><line x1="343.10" y1="81.38" x2="343.10" y2="109.69"/><line x1="339.40" y1="81.38" x2="346.80" y2="81.38"/><line x1="339.40" y1="109.69" x2="346.80" y2="109.69"/><line x1="399.70" y1="27.58" x2="399.70" y2="52.75"/><line x1="396.00" y1="27.58" x2="403.40" y2="27.58"/><line x1="396.00" y1="52.75" x2="403.40" y2="52.75"/></g>
<g stroke="#000" stroke-width="1.35"><circle cx="126.20" cy="325.35" r="6.75" fill="#9e0142"/><circle cx="128.50" cy="302.07" r="6.75" fill="#9e0142"/><circle cx="133.00" cy="259.13" r="6.75" fill="#9e0142"/><circle cx="138.20" cy="239.31" r="6.75" fill="#9e0142"/><circle cx="141.00" cy="216.50" r="6.75" fill="#9e0142"/><circle cx="148.50" cy="196.05" r="6.75" fill="#9e0142"/><circle cx="181.70" cy="127.94" r="6.75" fill="#9e0142"/><circle cx="236.80" cy="107.65" r="6.75" fill="#9e0142"/><circle cx="282.30" cy="133.29" r="6.75" fill="#9e0142"/><circle cx="335.80" cy="87.04" r="6.75" fill="#9e0142"/><circle cx="126.20" cy="325.35" r="6.75" fill="#f46d43"/><circle cx="131.20" cy="307.10" r="6.75" fill="#f46d43"/><circle cx="135.70" cy="270.45" r="6.75" fill="#f46d43"/><circle cx="141.50" cy="259.44" r="6.75" fill="#f46d43"/><circle cx="147.00" cy="209.26" r="6.75" fill="#f46d43"/><circle cx="153.00" cy="179.06" r="6.75" fill="#f46d43"/><circle cx="185.90" cy="135.65" r="6.75" fill="#f46d43"/><circle cx="245.00" cy="144.77" r="6.75" fill="#f46d43"/><circle cx="290.30" cy="95.85" r="6.75" fill="#f46d43"/><circle cx="350.70" cy="57.31" r="6.75" fill="#f46d43"/><circle cx="138.10" cy="325.19" r="6.75" fill="#fee08b"/><circle cx="140.60" cy="315.60" r="6.75" fill="#fee08b"/><circle cx="147.40" cy="288.23" r="6.75" fill="#fee08b"/><circle cx="152.30" cy="246.70" r="6.75" fill="#fee08b"/><circle cx="158.80" cy="208.95" r="6.75" fill="#fee08b"/><circle cx="164.50" cy="175.76" r="6.75" fill="#fee08b"/><circle cx="190.10" cy="138.95" r="6.75" fill="#fee08b"/><circle cx="248.50" cy="104.19" r="6.75" fill="#fee08b"/><circle cx="295.20" cy="95.85" r="6.75" fill="#fee08b"/><circle cx="354.20" cy="20.82" r="6.75" fill="#fee08b"/><circle cx="156.40" cy="262.12" r="6.75" fill="#bfbfbf"/><circle cx="158.20" cy="245.91" r="6.75" fill="#bfbfbf"/><circle cx="163.50" cy="225.15" r="6.75" fill="#bfbfbf"/><circle cx="168.00" cy="197.78" r="6.75" fill="#bfbfbf"/><circle cx="173.50" cy="169.94" r="6.75" fill="#bfbfbf"/><circle cx="179.50" cy="164.12" r="6.75" fill="#bfbfbf"/><circle cx="213.90" cy="151.53" r="6.75" fill="#bfbfbf"/><circle cx="264.80" cy="150.75" r="6.75" fill="#bfbfbf"/><circle cx="318.30" cy="121.65" r="6.75" fill="#bfbfbf"/><circle cx="382.10" cy="103.24" r="6.75" fill="#bfbfbf"/><circle cx="162.20" cy="296.57" r="6.75" fill="#66c2a5"/><circle cx="164.60" cy="280.21" r="6.75" fill="#66c2a5"/><circle cx="169.00" cy="248.12" r="6.75" fill="#66c2a5"/><circle cx="174.80" cy="238.05" r="6.75" fill="#66c2a5"/><circle cx="181.50" cy="194.01" r="6.75" fill="#66c2a5"/><circle cx="190.00" cy="182.05" r="6.75" fill="#66c2a5"/><circle cx="225.50" cy="142.25" r="6.75" fill="#66c2a5"/><circle cx="289.00" cy="147.92" r="6.75" fill="#66c2a5"/><circle cx="341.10" cy="133.29" r="6.75" fill="#66c2a5"/><circle cx="406.00" cy="90.66" r="6.75" fill="#66c2a5"/><circle cx="174.80" cy="262.12" r="6.75" fill="#3288bd"/><circle cx="175.50" cy="217.44" r="6.75" fill="#3288bd"/><circle cx="179.80" cy="226.25" r="6.75" fill="#3288bd"/><circle cx="182.00" cy="209.58" r="6.75" fill="#3288bd"/><circle cx="187.50" cy="212.57" r="6.75" fill="#3288bd"/><circle cx="193.80" cy="193.06" r="6.75" fill="#3288bd"/><circle cx="219.90" cy="177.17" r="6.75" fill="#3288bd"/><circle cx="267.80" cy="140.37" r="6.75" fill="#3288bd"/><circle cx="308.80" cy="148.23" r="6.75" fill="#3288bd"/><circle cx="358.80" cy="74.77" r="6.75" fill="#3288bd"/><circle cx="186.00" cy="244.97" r="6.75" fill="#5e4fa2"/><circle cx="190.10" cy="258.50" r="6.75" fill="#5e4fa2"/><circle cx="196.00" cy="242.45" r="6.75" fill="#5e4fa2"/><circle cx="200.00" cy="220.75" r="6.75" fill="#5e4fa2"/><circle cx="207.00" cy="217.29" r="6.75" fill="#5e4fa2"/><circle cx="213.00" cy="205.80" r="6.75" fill="#5e4fa2"/><circle cx="244.00" cy="174.66" r="6.75" fill="#5e4fa2"/><circle cx="297.90" cy="151.85" r="6.75" fill="#5e4fa2"/><circle cx="342.60" cy="95.54" r="6.75" fill="#5e4fa2"/><circle cx="399.20" cy="40.17" r="6.75" fill="#5e4fa2"/></g>
<clipPath id="clipb"><rect x="613.60" y="10.60" width="360.80" height="350.40"/></clipPath>
<g stroke="#1e1e1e" stroke-width="1.6" fill="none" clip-path="url(#clipb)"><line x1="645.68" y1="322.11" x2="645.68" y2="332.62"/><line x1="641.98" y1="322.11" x2="649.38" y2="322.11"/><line x1="641.98" y1="332.62" x2="649.38" y2="332.62"/><line x1="647.98" y1="296.53" x2="647.98" y2="307.04"/><line x1="644.28" y1="296.53" x2="651.68" y2="296.53"/><line x1="644.28" y1="307.04" x2="651.68" y2="307.04"/><line x1="652.48" y1="263.59" x2="652.48" y2="274.10"/><line x1="648.78" y1="263.59" x2="656.18" y2="263.59"/><line x1="648.78" y1="274.10" x2="656.18" y2="274.10"/><line x1="657.68" y1="229.25" x2="657.68" y2="239.76"/><line x1="653.98" y1="229.25" x2="661.38" y2="229.25"/><line x1="653.98" y1="239.76" x2="661.38" y2="239.76"/><line x1="660.47" y1="211.03" x2="660.47" y2="248.87"/><line x1="656.77" y1="211.03" x2="664.17" y2="211.03"/><line x1="656.77" y1="248.87" x2="664.17" y2="248.87"/><line x1="667.97" y1="201.57" x2="667.97" y2="212.08"/><line x1="664.27" y1="201.57" x2="671.67" y2="201.57"/><line x1="664.27" y1="212.08" x2="671.67" y2="212.08"/><line x1="701.15" y1="186.85" x2="701.15" y2="209.98"/><line x1="697.45" y1="186.85" x2="704.85" y2="186.85"/><line x1="697.45" y1="209.98" x2="704.85" y2="209.98"/><line x1="756.22" y1="182.65" x2="756.22" y2="214.18"/><line x1="752.52" y1="182.65" x2="759.92" y2="182.65"/><line x1="752.52" y1="214.18" x2="759.92" y2="214.18"/><line x1="801.70" y1="184.40" x2="801.70" y2="210.33"/><line x1="798.00" y1="184.40" x2="805.40" y2="184.40"/><line x1="798.00" y1="210.33" x2="805.40" y2="210.33"/><line x1="855.17" y1="175.64" x2="855.17" y2="209.98"/><line x1="851.47" y1="175.64" x2="858.87" y2="175.64"/><line x1="851.47" y1="209.98" x2="858.87" y2="209.98"/><line x1="645.68" y1="322.46" x2="645.68" y2="332.97"/><line x1="641.98" y1="322.46" x2="649.38" y2="322.46"/><line x1="641.98" y1="332.97" x2="649.38" y2="332.97"/><line x1="650.68" y1="275.15" x2="650.68" y2="285.66"/><line x1="646.98" y1="275.15" x2="654.38" y2="275.15"/><line x1="646.98" y1="285.66" x2="654.38" y2="285.66"/><line x1="655.18" y1="234.16" x2="655.18" y2="244.67"/><line x1="651.48" y1="234.16" x2="658.88" y2="234.16"/><line x1="651.48" y1="244.67" x2="658.88" y2="244.67"/><line x1="660.97" y1="206.47" x2="660.97" y2="216.99"/><line x1="657.27" y1="206.47" x2="664.67" y2="206.47"/><line x1="657.27" y1="216.99" x2="664.67" y2="216.99"/><line x1="666.47" y1="176.69" x2="666.47" y2="197.71"/><line x1="662.77" y1="176.69" x2="670.17" y2="176.69"/><line x1="662.77" y1="197.71" x2="670.17" y2="197.71"/><line x1="672.47" y1="173.89" x2="672.47" y2="184.40"/><line x1="668.77" y1="173.89" x2="676.17" y2="173.89"/><line x1="668.77" y1="184.40" x2="676.17" y2="184.40"/><line x1="705.35" y1="164.78" x2="705.35" y2="175.29"/><line x1="701.65" y1="164.78" x2="709.05" y2="164.78"/><line x1="701.65" y1="175.29" x2="709.05" y2="175.29"/><line x1="764.42" y1="138.50" x2="764.42" y2="191.06"/><line x1="760.72" y1="138.50" x2="768.12" y2="138.50"/><line x1="760.72" y1="191.06" x2="768.12" y2="191.06"/><line x1="809.69" y1="132.89" x2="809.69" y2="195.96"/><line x1="805.99" y1="132.89" x2="813.39" y2="132.89"/><line x1="805.99" y1="195.96" x2="813.39" y2="195.96"/><line x1="870.06" y1="114.32" x2="870.06" y2="191.41"/><line x1="866.36" y1="114.32" x2="873.76" y2="114.32"/><line x1="866.36" y1="191.41" x2="873.76" y2="191.41"/><line x1="657.58" y1="299.68" x2="657.58" y2="310.19"/><line x1="653.88" y1="299.68" x2="661.28" y2="299.68"/><line x1="653.88" y1="310.19" x2="661.28" y2="310.19"/><line x1="660.07" y1="286.72" x2="660.07" y2="297.23"/><line x1="656.37" y1="286.72" x2="663.77" y2="286.72"/><line x1="656.37" y1="297.23" x2="663.77" y2="297.23"/><line x1="666.87" y1="240.46" x2="666.87" y2="250.97"/><line x1="663.17" y1="240.46" x2="670.57" y2="240.46"/><line x1="663.17" y1="250.97" x2="670.57" y2="250.97"/><line x1="671.77" y1="215.23" x2="671.77" y2="225.75"/><line x1="668.07" y1="215.23" x2="675.47" y2="215.23"/><line x1="668.07" y1="225.75" x2="675.47" y2="225.75"/><line x1="678.26" y1="195.96" x2="678.26" y2="216.99"/><line x1="674.56" y1="195.96" x2="681.96" y2="195.96"/><line x1="674.56" y1="216.99" x2="681.96" y2="216.99"/><line x1="683.96" y1="163.02" x2="683.96" y2="187.55"/><line x1="680.26" y1="163.02" x2="687.66" y2="163.02"/><line x1="680.26" y1="187.55" x2="687.66" y2="187.55"/><line x1="709.55" y1="168.28" x2="709.55" y2="178.79"/><line x1="705.85" y1="168.28" x2="713.25" y2="168.28"/><line x1="705.85" y1="178.79" x2="713.25" y2="178.79"/><line x1="767.92" y1="172.84" x2="767.92" y2="200.87"/><line x1="764.22" y1="172.84" x2="771.62" y2="172.84"/><line x1="764.22" y1="200.87" x2="771.62" y2="200.87"/><line x1="814.59" y1="141.65" x2="814.59" y2="208.93"/><line x1="810.89" y1="141.65" x2="818.29" y2="141.65"/><line x1="810.89" y1="208.93" x2="818.29" y2="208.93"/><line x1="873.56" y1="119.57" x2="873.56" y2="196.66"/><line x1="869.86" y1="119.57" x2="877.26" y2="119.57"/><line x1="869.86" y1="196.66" x2="877.26" y2="196.66"/><line x1="675.87" y1="216.64" x2="675.87" y2="227.15"/><line x1="672.17" y1="216.64" x2="679.57" y2="216.64"/><line x1="672.17" y1="227.15" x2="679.57" y2="227.15"/><line x1="677.67" y1="213.13" x2="677.67" y2="231.35"/><line x1="673.97" y1="213.13" x2="681.37" y2="213.13"/><line x1="673.97" y1="231.35" x2="681.37" y2="231.35"/><line x1="682.96" y1="208.58" x2="682.96" y2="219.09"/><line x1="679.26" y1="208.58" x2="686.66" y2="208.58"/><line x1="679.26" y1="219.09" x2="686.66" y2="219.09"/><line x1="687.46" y1="202.97" x2="687.46" y2="213.48"/><line x1="683.76" y1="202.97" x2="691.16" y2="202.97"/><line x1="683.76" y1="213.48" x2="691.16" y2="213.48"/><line x1="692.96" y1="195.96" x2="692.96" y2="206.47"/><line x1="689.26" y1="195.96" x2="696.66" y2="195.96"/><line x1="689.26" y1="206.47" x2="696.66" y2="206.47"/><line x1="698.95" y1="169.68" x2="698.95" y2="197.71"/><line x1="695.25" y1="169.68" x2="702.65" y2="169.68"/><line x1="695.25" y1="197.71" x2="702.65" y2="197.71"/><line x1="733.33" y1="130.09" x2="733.33" y2="172.13"/><line x1="729.63" y1="130.09" x2="737.03" y2="130.09"/><line x1="729.63" y1="172.13" x2="737.03" y2="172.13"/><line x1="784.21" y1="90.84" x2="784.21" y2="156.02"/><line x1="780.51" y1="90.84" x2="787.91" y2="90.84"/><line x1="780.51" y1="156.02" x2="787.91" y2="156.02"/><line x1="837.68" y1="10.60" x2="837.68" y2="81.73"/><line x1="833.98" y1="81.73" x2="841.38" y2="81.73"/><line x1="901.44" y1="10.60" x2="901.44" y2="97.85"/><line x1="897.74" y1="97.85" x2="905.14" y2="97.85"/><line x1="681.66" y1="235.91" x2="681.66" y2="246.42"/><line x1="677.96" y1="235.91" x2="685.36" y2="235.91"/><line x1="677.96" y1="246.42" x2="685.36" y2="246.42"/><line x1="684.06" y1="216.64" x2="684.06" y2="230.65"/><line x1="680.36" y1="216.64" x2="687.76" y2="216.64"/><line x1="680.36" y1="230.65" x2="687.76" y2="230.65"/><line x1="688.46" y1="199.12" x2="688.46" y2="209.63"/><line x1="684.76" y1="199.12" x2="692.16" y2="199.12"/><line x1="684.76" y1="209.63" x2="692.16" y2="209.63"/><line x1="694.26" y1="196.31" x2="694.26" y2="210.33"/><line x1="690.56" y1="196.31" x2="697.96" y2="196.31"/><line x1="690.56" y1="210.33" x2="697.96" y2="210.33"/><line x1="700.95" y1="190.36" x2="700.95" y2="200.87"/><line x1="697.25" y1="190.36" x2="704.65" y2="190.36"/><line x1="697.25" y1="200.87" x2="704.65" y2="200.87"/><line x1="709.45" y1="185.45" x2="709.45" y2="195.96"/><line x1="705.75" y1="185.45" x2="713.15" y2="185.45"/><line x1="705.75" y1="195.96" x2="713.15" y2="195.96"/><line x1="744.93" y1="137.09" x2="744.93" y2="172.13"/><line x1="741.23" y1="137.09" x2="748.63" y2="137.09"/><line x1="741.23" y1="172.13" x2="748.63" y2="172.13"/><line x1="808.39" y1="128.68" x2="808.39" y2="169.33"/><line x1="804.69" y1="128.68" x2="812.09" y2="128.68"/><line x1="804.69" y1="169.33" x2="812.09" y2="169.33"/><line x1="860.46" y1="82.08" x2="860.46" y2="124.13"/><line x1="856.76" y1="82.08" x2="864.16" y2="82.08"/><line x1="856.76" y1="124.13" x2="864.16" y2="124.13"/><line x1="925.33" y1="18.31" x2="925.33" y2="106.61"/><line x1="921.63" y1="18.31" x2="929.03" y2="18.31"/><line x1="921.63" y1="106.61" x2="929.03" y2="106.61"/><line x1="694.26" y1="184.75" x2="694.26" y2="203.67"/><line x1="690.56" y1="184.75" x2="697.96" y2="184.75"/><line x1="690.56" y1="203.67" x2="697.96" y2="203.67"/><line x1="694.96" y1="171.08" x2="694.96" y2="181.60"/><line x1="691.26" y1="171.08" x2="698.66" y2="171.08"/><line x1="691.26" y1="181.60" x2="698.66" y2="181.60"/><line x1="699.25" y1="179.14" x2="699.25" y2="193.16"/><line x1="695.55" y1="179.14" x2="702.95" y2="179.14"/><line x1="695.55" y1="193.16" x2="702.95" y2="193.16"/><line x1="701.45" y1="167.93" x2="701.45" y2="178.44"/><line x1="697.75" y1="167.93" x2="705.15" y2="167.93"/><line x1="697.75" y1="178.44" x2="705.15" y2="178.44"/><line x1="706.95" y1="188.60" x2="706.95" y2="199.12"/><line x1="703.25" y1="188.60" x2="710.65" y2="188.60"/><line x1="703.25" y1="199.12" x2="710.65" y2="199.12"/><line x1="713.25" y1="163.37" x2="713.25" y2="173.89"/><line x1="709.55" y1="163.37" x2="716.95" y2="163.37"/><line x1="709.55" y1="173.89" x2="716.95" y2="173.89"/><line x1="739.33" y1="156.72" x2="739.33" y2="177.74"/><line x1="735.63" y1="156.72" x2="743.03" y2="156.72"/><line x1="735.63" y1="177.74" x2="743.03" y2="177.74"/><line x1="787.20" y1="150.41" x2="787.20" y2="193.16"/><line x1="783.50" y1="150.41" x2="790.90" y2="150.41"/><line x1="783.50" y1="193.16" x2="790.90" y2="193.16"/><line x1="828.18" y1="115.02" x2="828.18" y2="201.22"/><line x1="824.48" y1="115.02" x2="831.88" y2="115.02"/><line x1="824.48" y1="201.22" x2="831.88" y2="201.22"/><line x1="878.15" y1="81.38" x2="878.15" y2="149.36"/><line x1="874.45" y1="81.38" x2="881.85" y2="81.38"/><line x1="874.45" y1="149.36" x2="881.85" y2="149.36"/><line x1="705.45" y1="149.71" x2="705.45" y2="174.24"/><line x1="701.75" y1="149.71" x2="709.15" y2="149.71"/><line x1="701.75" y1="174.24" x2="709.15" y2="174.24"/><line x1="709.55" y1="157.07" x2="709.55" y2="175.29"/><line x1="705.85" y1="157.07" x2="713.25" y2="157.07"/><line x1="705.85" y1="175.29" x2="713.25" y2="175.29"/><line x1="715.44" y1="165.83" x2="715.44" y2="176.34"/><line x1="711.74" y1="165.83" x2="719.14" y2="165.83"/><line x1="711.74" y1="176.34" x2="719.14" y2="176.34"/><line x1="719.44" y1="146.56" x2="719.44" y2="167.58"/><line x1="715.74" y1="146.56" x2="723.14" y2="146.56"/><line x1="715.74" y1="167.58" x2="723.14" y2="167.58"/><line x1="726.44" y1="109.06" x2="726.44" y2="178.44"/><line x1="722.74" y1="109.06" x2="730.14" y2="109.06"/><line x1="722.74" y1="178.44" x2="730.14" y2="178.44"/><line x1="732.43" y1="130.79" x2="732.43" y2="162.32"/><line x1="728.73" y1="130.79" x2="736.13" y2="130.79"/><line x1="728.73" y1="162.32" x2="736.13" y2="162.32"/><line x1="763.42" y1="161.27" x2="763.42" y2="189.30"/><line x1="759.72" y1="161.27" x2="767.12" y2="161.27"/><line x1="759.72" y1="189.30" x2="767.12" y2="189.30"/><line x1="817.29" y1="95.05" x2="817.29" y2="142.00"/><line x1="813.59" y1="95.05" x2="820.99" y2="95.05"/><line x1="813.59" y1="142.00" x2="820.99" y2="142.00"/><line x1="861.96" y1="91.19" x2="861.96" y2="114.32"/><line x1="858.26" y1="91.19" x2="865.66" y2="91.19"/><line x1="858.26" y1="114.32" x2="865.66" y2="114.32"/><line x1="918.53" y1="47.39" x2="918.53" y2="146.20"/><line x1="914.83" y1="47.39" x2="922.23" y2="47.39"/><line x1="914.83" y1="146.20" x2="922.23" y2="146.20"/></g>
<g stroke="#000" stroke-width="1.35"><circle cx="644.68" cy="327.36" r="6.75" fill="#9e0142"/><circle cx="646.98" cy="301.78" r="6.75" fill="#9e0142"/><circle cx="651.48" cy="268.84" r="6.75" fill="#9e0142"/><circle cx="656.68" cy="234.51" r="6.75" fill="#9e0142"/><circle cx="659.47" cy="229.95" r="6.75" fill="#9e0142"/><circle cx="666.97" cy="206.82" r="6.75" fill="#9e0142"/><circle cx="700.15" cy="198.41" r="6.75" fill="#9e0142"/><circle cx="755.22" cy="198.41" r="6.75" fill="#9e0142"/><circle cx="800.70" cy="197.36" r="6.75" fill="#9e0142"/><circle cx="854.17" cy="192.81" r="6.75" fill="#9e0142"/><circle cx="644.68" cy="327.71" r="6.75" fill="#f46d43"/><circle cx="649.68" cy="280.41" r="6.75" fill="#f46d43"/><circle cx="654.18" cy="239.41" r="6.75" fill="#f46d43"/><circle cx="659.97" cy="211.73" r="6.75" fill="#f46d43"/><circle cx="665.47" cy="187.20" r="6.75" fill="#f46d43"/><circle cx="671.47" cy="179.14" r="6.75" fill="#f46d43"/><circle cx="704.35" cy="170.03" r="6.75" fill="#f46d43"/><circle cx="763.42" cy="164.78" r="6.75" fill="#f46d43"/><circle cx="808.69" cy="164.43" r="6.75" fill="#f46d43"/><circle cx="869.06" cy="152.86" r="6.75" fill="#f46d43"/><circle cx="656.58" cy="304.94" r="6.75" fill="#fee08b"/><circle cx="659.07" cy="291.97" r="6.75" fill="#fee08b"/><circle cx="665.87" cy="245.72" r="6.75" fill="#fee08b"/><circle cx="670.77" cy="220.49" r="6.75" fill="#fee08b"/><circle cx="677.26" cy="206.47" r="6.75" fill="#fee08b"/><circle cx="682.96" cy="175.29" r="6.75" fill="#fee08b"/><circle cx="708.55" cy="173.54" r="6.75" fill="#fee08b"/><circle cx="766.92" cy="186.85" r="6.75" fill="#fee08b"/><circle cx="813.59" cy="175.29" r="6.75" fill="#fee08b"/><circle cx="872.56" cy="158.12" r="6.75" fill="#fee08b"/><circle cx="674.87" cy="221.89" r="6.75" fill="#bfbfbf"/><circle cx="676.67" cy="222.24" r="6.75" fill="#bfbfbf"/><circle cx="681.96" cy="213.83" r="6.75" fill="#bfbfbf"/><circle cx="686.46" cy="208.23" r="6.75" fill="#bfbfbf"/><circle cx="691.96" cy="201.22" r="6.75" fill="#bfbfbf"/><circle cx="697.95" cy="183.70" r="6.75" fill="#bfbfbf"/><circle cx="732.33" cy="151.11" r="6.75" fill="#bfbfbf"/><circle cx="783.21" cy="123.43" r="6.75" fill="#bfbfbf"/><circle cx="836.68" cy="39.68" r="6.75" fill="#bfbfbf"/><circle cx="900.44" cy="12.70" r="6.75" fill="#bfbfbf"/><circle cx="680.66" cy="241.16" r="6.75" fill="#66c2a5"/><circle cx="683.06" cy="223.64" r="6.75" fill="#66c2a5"/><circle cx="687.46" cy="204.37" r="6.75" fill="#66c2a5"/><circle cx="693.26" cy="203.32" r="6.75" fill="#66c2a5"/><circle cx="699.95" cy="195.61" r="6.75" fill="#66c2a5"/><circle cx="708.45" cy="190.71" r="6.75" fill="#66c2a5"/><circle cx="743.93" cy="154.61" r="6.75" fill="#66c2a5"/><circle cx="807.39" cy="149.01" r="6.75" fill="#66c2a5"/><circle cx="859.46" cy="103.11" r="6.75" fill="#66c2a5"/><circle cx="924.33" cy="62.46" r="6.75" fill="#66c2a5"/><circle cx="693.26" cy="194.21" r="6.75" fill="#3288bd"/><circle cx="693.96" cy="176.34" r="6.75" fill="#3288bd"/><circle cx="698.25" cy="186.15" r="6.75" fill="#3288bd"/><circle cx="700.45" cy="173.19" r="6.75" fill="#3288bd"/><circle cx="705.95" cy="193.86" r="6.75" fill="#3288bd"/><circle cx="712.25" cy="168.63" r="6.75" fill="#3288bd"/><circle cx="738.33" cy="167.23" r="6.75" fill="#3288bd"/><circle cx="786.20" cy="171.78" r="6.75" fill="#3288bd"/><circle cx="827.18" cy="158.12" r="6.75" fill="#3288bd"/><circle cx="877.15" cy="115.37" r="6.75" fill="#3288bd"/><circle cx="704.45" cy="161.97" r="6.75" fill="#5e4fa2"/><circle cx="708.55" cy="166.18" r="6.75" fill="#5e4fa2"/><circle cx="714.44" cy="171.08" r="6.75" fill="#5e4fa2"/><circle cx="718.44" cy="157.07" r="6.75" fill="#5e4fa2"/><circle cx="725.44" cy="143.75" r="6.75" fill="#5e4fa2"/><circle cx="731.43" cy="146.56" r="6.75" fill="#5e4fa2"/><circle cx="762.42" cy="175.29" r="6.75" fill="#5e4fa2"/><circle cx="816.29" cy="118.52" r="6.75" fill="#5e4fa2"/><circle cx="860.96" cy="102.76" r="6.75" fill="#5e4fa2"/><circle cx="917.53" cy="96.80" r="6.75" fill="#5e4fa2"/></g>
<clipPath id="clipc"><rect x="96.50" y="496.10" width="364.60" height="347.90"/></clipPath>
<g stroke="#1e1e1e" stroke-width="1.6" fill="none" clip-path="url(#clipc)"><line x1="156.65" y1="803.23" x2="156.65" y2="815.83"/><line x1="152.95" y1="803.23" x2="160.35" y2="803.23"/><line x1="152.95" y1="815.83" x2="160.35" y2="815.83"/><line x1="158.87" y1="779.94" x2="158.87" y2="792.53"/><line x1="155.17" y1="779.94" x2="162.57" y2="779.94"/><line x1="155.17" y1="792.53" x2="162.57" y2="792.53"/><line x1="163.22" y1="736.97" x2="163.22" y2="749.56"/><line x1="159.52" y1="736.97" x2="166.92" y2="736.97"/><line x1="159.52" y1="749.56" x2="166.92" y2="749.56"/><line x1="168.25" y1="717.14" x2="168.25" y2="729.73"/><line x1="164.55" y1="717.14" x2="171.95" y2="717.14"/><line x1="164.55" y1="729.73" x2="171.95" y2="729.73"/><line x1="170.96" y1="689.59" x2="170.96" y2="711.63"/><line x1="167.26" y1="689.59" x2="174.66" y2="689.59"/><line x1="167.26" y1="711.63" x2="174.66" y2="711.63"/><line x1="178.22" y1="673.85" x2="178.22" y2="686.44"/><line x1="174.52" y1="673.85" x2="181.92" y2="673.85"/><line x1="174.52" y1="686.44" x2="181.92" y2="686.44"/><line x1="210.34" y1="602.55" x2="210.34" y2="621.44"/><line x1="206.64" y1="602.55" x2="214.04" y2="602.55"/><line x1="206.64" y1="621.44" x2="214.04" y2="621.44"/><line x1="263.64" y1="581.30" x2="263.64" y2="602.08"/><line x1="259.94" y1="581.30" x2="267.34" y2="581.30"/><line x1="259.94" y1="602.08" x2="267.34" y2="602.08"/><line x1="307.66" y1="593.89" x2="307.66" y2="640.80"/><line x1="303.96" y1="593.89" x2="311.36" y2="593.89"/><line x1="303.96" y1="640.80" x2="311.36" y2="640.80"/><line x1="359.41" y1="547.62" x2="359.41" y2="594.52"/><line x1="355.71" y1="547.62" x2="363.11" y2="547.62"/><line x1="355.71" y1="594.52" x2="363.11" y2="594.52"/><line x1="156.65" y1="803.23" x2="156.65" y2="815.83"/><line x1="152.95" y1="803.23" x2="160.35" y2="803.23"/><line x1="152.95" y1="815.83" x2="160.35" y2="815.83"/><line x1="161.48" y1="784.98" x2="161.48" y2="797.57"/><line x1="157.78" y1="784.98" x2="165.18" y2="784.98"/><line x1="157.78" y1="797.57" x2="165.18" y2="797.57"/><line x1="165.84" y1="744.52" x2="165.84" y2="764.67"/><line x1="162.14" y1="744.52" x2="169.54" y2="744.52"/><line x1="162.14" y1="764.67" x2="169.54" y2="764.67"/><line x1="171.45" y1="737.28" x2="171.45" y2="749.87"/><line x1="167.75" y1="737.28" x2="175.15" y2="737.28"/><line x1="167.75" y1="749.87" x2="175.15" y2="749.87"/><line x1="176.77" y1="687.07" x2="176.77" y2="699.66"/><line x1="173.07" y1="687.07" x2="180.47" y2="687.07"/><line x1="173.07" y1="699.66" x2="180.47" y2="699.66"/><line x1="182.57" y1="656.85" x2="182.57" y2="669.44"/><line x1="178.87" y1="656.85" x2="186.27" y2="656.85"/><line x1="178.87" y1="669.44" x2="186.27" y2="669.44"/><line x1="214.40" y1="608.69" x2="214.40" y2="630.72"/><line x1="210.70" y1="608.69" x2="218.10" y2="608.69"/><line x1="210.70" y1="630.72" x2="218.10" y2="630.72"/><line x1="271.57" y1="613.88" x2="271.57" y2="643.79"/><line x1="267.87" y1="613.88" x2="275.27" y2="613.88"/><line x1="267.87" y1="643.79" x2="275.27" y2="643.79"/><line x1="315.40" y1="556.27" x2="315.40" y2="603.49"/><line x1="311.70" y1="556.27" x2="319.10" y2="556.27"/><line x1="311.70" y1="603.49" x2="319.10" y2="603.49"/><line x1="373.83" y1="525.58" x2="373.83" y2="557.06"/><line x1="370.13" y1="525.58" x2="377.53" y2="525.58"/><line x1="370.13" y1="557.06" x2="377.53" y2="557.06"/><line x1="168.16" y1="803.08" x2="168.16" y2="815.67"/><line x1="164.46" y1="803.08" x2="171.86" y2="803.08"/><line x1="164.46" y1="815.67" x2="171.86" y2="815.67"/><line x1="170.58" y1="793.47" x2="170.58" y2="806.07"/><line x1="166.88" y1="793.47" x2="174.28" y2="793.47"/><line x1="166.88" y1="806.07" x2="174.28" y2="806.07"/><line x1="177.15" y1="762.62" x2="177.15" y2="782.14"/><line x1="173.45" y1="762.62" x2="180.85" y2="762.62"/><line x1="173.45" y1="782.14" x2="180.85" y2="782.14"/><line x1="181.90" y1="724.53" x2="181.90" y2="737.13"/><line x1="178.20" y1="724.53" x2="185.60" y2="724.53"/><line x1="178.20" y1="737.13" x2="185.60" y2="737.13"/><line x1="188.18" y1="686.76" x2="188.18" y2="699.35"/><line x1="184.48" y1="686.76" x2="191.88" y2="686.76"/><line x1="184.48" y1="699.35" x2="191.88" y2="699.35"/><line x1="193.70" y1="648.82" x2="193.70" y2="670.86"/><line x1="190.00" y1="648.82" x2="197.40" y2="648.82"/><line x1="190.00" y1="670.86" x2="197.40" y2="670.86"/><line x1="218.46" y1="609.63" x2="218.46" y2="636.39"/><line x1="214.76" y1="609.63" x2="222.16" y2="609.63"/><line x1="214.76" y1="636.39" x2="222.16" y2="636.39"/><line x1="274.96" y1="571.07" x2="274.96" y2="605.38"/><line x1="271.26" y1="571.07" x2="278.66" y2="571.07"/><line x1="271.26" y1="605.38" x2="278.66" y2="605.38"/><line x1="320.14" y1="568.39" x2="320.14" y2="591.37"/><line x1="316.44" y1="568.39" x2="323.84" y2="568.39"/><line x1="316.44" y1="591.37" x2="323.84" y2="591.37"/><line x1="377.21" y1="496.10" x2="377.21" y2="524.64"/><line x1="373.51" y1="524.64" x2="380.91" y2="524.64"/><line x1="185.86" y1="739.96" x2="185.86" y2="752.55"/><line x1="182.16" y1="739.96" x2="189.56" y2="739.96"/><line x1="182.16" y1="752.55" x2="189.56" y2="752.55"/><line x1="187.60" y1="723.75" x2="187.60" y2="736.34"/><line x1="183.90" y1="723.75" x2="191.30" y2="723.75"/><line x1="183.90" y1="736.34" x2="191.30" y2="736.34"/><line x1="192.73" y1="700.29" x2="192.73" y2="718.24"/><line x1="189.03" y1="700.29" x2="196.43" y2="700.29"/><line x1="189.03" y1="718.24" x2="196.43" y2="718.24"/><line x1="197.08" y1="673.54" x2="197.08" y2="690.22"/><line x1="193.38" y1="673.54" x2="200.78" y2="673.54"/><line x1="193.38" y1="690.22" x2="200.78" y2="690.22"/><line x1="202.40" y1="645.52" x2="202.40" y2="662.52"/><line x1="198.70" y1="645.52" x2="206.10" y2="645.52"/><line x1="198.70" y1="662.52" x2="206.10" y2="662.52"/><line x1="208.21" y1="639.07" x2="208.21" y2="657.32"/><line x1="204.51" y1="639.07" x2="211.91" y2="639.07"/><line x1="204.51" y1="657.32" x2="211.91" y2="657.32"/><line x1="241.49" y1="614.67" x2="241.49" y2="656.54"/><line x1="237.79" y1="614.67" x2="245.19" y2="614.67"/><line x1="237.79" y1="656.54" x2="245.19" y2="656.54"/><line x1="290.73" y1="613.88" x2="290.73" y2="655.75"/><line x1="287.03" y1="613.88" x2="294.43" y2="613.88"/><line x1="287.03" y1="655.75" x2="294.43" y2="655.75"/><line x1="342.48" y1="585.71" x2="342.48" y2="625.69"/><line x1="338.78" y1="585.71" x2="346.18" y2="585.71"/><line x1="338.78" y1="625.69" x2="346.18" y2="625.69"/><line x1="404.21" y1="574.69" x2="404.21" y2="599.87"/><line x1="400.51" y1="574.69" x2="407.91" y2="574.69"/><line x1="400.51" y1="599.87" x2="407.91" y2="599.87"/><line x1="191.47" y1="774.43" x2="191.47" y2="787.02"/><line x1="187.77" y1="774.43" x2="195.17" y2="774.43"/><line x1="187.77" y1="787.02" x2="195.17" y2="787.02"/><line x1="193.79" y1="751.76" x2="193.79" y2="776.95"/><line x1="190.09" y1="751.76" x2="197.49" y2="751.76"/><line x1="190.09" y1="776.95" x2="197.49" y2="776.95"/><line x1="198.05" y1="725.95" x2="198.05" y2="738.54"/><line x1="194.35" y1="725.95" x2="201.75" y2="725.95"/><line x1="194.35" y1="738.54" x2="201.75" y2="738.54"/><line x1="203.66" y1="715.88" x2="203.66" y2="728.47"/><line x1="199.96" y1="715.88" x2="207.36" y2="715.88"/><line x1="199.96" y1="728.47" x2="207.36" y2="728.47"/><line x1="210.14" y1="668.66" x2="210.14" y2="687.54"/><line x1="206.44" y1="668.66" x2="213.84" y2="668.66"/><line x1="206.44" y1="687.54" x2="213.84" y2="687.54"/><line x1="218.37" y1="655.12" x2="218.37" y2="677.16"/><line x1="214.67" y1="655.12" x2="222.07" y2="655.12"/><line x1="214.67" y1="677.16" x2="222.07" y2="677.16"/><line x1="252.71" y1="607.43" x2="252.71" y2="645.20"/><line x1="249.01" y1="607.43" x2="256.41" y2="607.43"/><line x1="249.01" y1="645.20" x2="256.41" y2="645.20"/><line x1="314.14" y1="618.45" x2="314.14" y2="645.52"/><line x1="310.44" y1="618.45" x2="317.84" y2="618.45"/><line x1="310.44" y1="645.52" x2="317.84" y2="645.52"/><line x1="364.54" y1="603.81" x2="364.54" y2="630.88"/><line x1="360.84" y1="603.81" x2="368.24" y2="603.81"/><line x1="360.84" y1="630.88" x2="368.24" y2="630.88"/><line x1="427.33" y1="561.62" x2="427.33" y2="587.75"/><line x1="423.63" y1="561.62" x2="431.03" y2="561.62"/><line x1="423.63" y1="587.75" x2="431.03" y2="587.75"/><line x1="203.66" y1="739.96" x2="203.66" y2="752.55"/><line x1="199.96" y1="739.96" x2="207.36" y2="739.96"/><line x1="199.96" y1="752.55" x2="207.36" y2="752.55"/><line x1="204.34" y1="695.26" x2="204.34" y2="707.85"/><line x1="200.64" y1="695.26" x2="208.04" y2="695.26"/><line x1="200.64" y1="707.85" x2="208.04" y2="707.85"/><line x1="208.50" y1="700.92" x2="208.50" y2="719.81"/><line x1="204.80" y1="700.92" x2="212.20" y2="700.92"/><line x1="204.80" y1="719.81" x2="212.20" y2="719.81"/><line x1="210.63" y1="687.39" x2="210.63" y2="699.98"/><line x1="206.93" y1="687.39" x2="214.33" y2="687.39"/><line x1="206.93" y1="699.98" x2="214.33" y2="699.98"/><line x1="215.95" y1="690.38" x2="215.95" y2="702.97"/><line x1="212.25" y1="690.38" x2="219.65" y2="690.38"/><line x1="212.25" y1="702.97" x2="219.65" y2="702.97"/><line x1="222.04" y1="667.71" x2="222.04" y2="686.60"/><line x1="218.34" y1="667.71" x2="225.74" y2="667.71"/><line x1="218.34" y1="686.60" x2="225.74" y2="686.60"/><line x1="247.29" y1="648.82" x2="247.29" y2="673.69"/><line x1="243.59" y1="648.82" x2="250.99" y2="648.82"/><line x1="243.59" y1="673.69" x2="250.99" y2="673.69"/><line x1="293.63" y1="601.92" x2="293.63" y2="646.94"/><line x1="289.93" y1="601.92" x2="297.33" y2="601.92"/><line x1="289.93" y1="646.94" x2="297.33" y2="646.94"/><line x1="333.29" y1="613.09" x2="333.29" y2="651.50"/><line x1="329.59" y1="613.09" x2="336.99" y2="613.09"/><line x1="329.59" y1="651.50" x2="336.99" y2="651.50"/><line x1="381.66" y1="543.05" x2="381.66" y2="574.53"/><line x1="377.96" y1="543.05" x2="385.36" y2="543.05"/><line x1="377.96" y1="574.53" x2="385.36" y2="574.53"/><line x1="214.50" y1="722.80" x2="214.50" y2="735.39"/><line x1="210.80" y1="722.80" x2="218.20" y2="722.80"/><line x1="210.80" y1="735.39" x2="218.20" y2="735.39"/><line x1="218.46" y1="727.21" x2="218.46" y2="758.06"/><line x1="214.76" y1="727.21" x2="222.16" y2="727.21"/><line x1="214.76" y1="758.06" x2="222.16" y2="758.06"/><line x1="224.17" y1="713.99" x2="224.17" y2="739.17"/><line x1="220.47" y1="713.99" x2="227.87" y2="713.99"/><line x1="220.47" y1="739.17" x2="227.87" y2="739.17"/><line x1="228.04" y1="689.12" x2="228.04" y2="720.60"/><line x1="224.34" y1="689.12" x2="231.74" y2="689.12"/><line x1="224.34" y1="720.60" x2="231.74" y2="720.60"/><line x1="234.81" y1="679.36" x2="234.81" y2="723.43"/><line x1="231.11" y1="679.36" x2="238.51" y2="679.36"/><line x1="231.11" y1="723.43" x2="238.51" y2="723.43"/><line x1="240.62" y1="669.13" x2="240.62" y2="710.68"/><line x1="236.92" y1="669.13" x2="244.32" y2="669.13"/><line x1="236.92" y1="710.68" x2="244.32" y2="710.68"/><line x1="270.61" y1="635.13" x2="270.61" y2="682.35"/><line x1="266.91" y1="635.13" x2="274.31" y2="635.13"/><line x1="266.91" y1="682.35" x2="274.31" y2="682.35"/><line x1="322.75" y1="614.83" x2="322.75" y2="657.01"/><line x1="319.05" y1="614.83" x2="326.45" y2="614.83"/><line x1="319.05" y1="657.01" x2="326.45" y2="657.01"/><line x1="365.99" y1="565.40" x2="365.99" y2="593.73"/><line x1="362.29" y1="565.40" x2="369.69" y2="565.40"/><line x1="362.29" y1="593.73" x2="369.69" y2="593.73"/><line x1="420.75" y1="511.57" x2="420.75" y2="536.76"/><line x1="417.05" y1="511.57" x2="424.45" y2="511.57"/><line x1="417.05" y1="536.76" x2="424.45" y2="536.76"/></g>
<g stroke="#000" stroke-width="1.35"><circle cx="155.15" cy="809.53" r="6.75" fill="#9e0142"/><circle cx="157.37" cy="786.23" r="6.75" fill="#9e0142"/><circle cx="161.72" cy="743.26" r="6.75" fill="#9e0142"/><circle cx="166.75" cy="723.43" r="6.75" fill="#9e0142"/><circle cx="169.46" cy="700.61" r="6.75" fill="#9e0142"/><circle cx="176.72" cy="680.15" r="6.75" fill="#9e0142"/><circle cx="208.84" cy="611.99" r="6.75" fill="#9e0142"/><circle cx="262.14" cy="591.69" r="6.75" fill="#9e0142"/><circle cx="306.16" cy="617.34" r="6.75" fill="#9e0142"/><circle cx="357.91" cy="571.07" r="6.75" fill="#9e0142"/><circle cx="155.15" cy="809.53" r="6.75" fill="#f46d43"/><circle cx="159.98" cy="791.27" r="6.75" fill="#f46d43"/><circle cx="164.34" cy="754.60" r="6.75" fill="#f46d43"/><circle cx="169.95" cy="743.58" r="6.75" fill="#f46d43"/><circle cx="175.27" cy="693.37" r="6.75" fill="#f46d43"/><circle cx="181.07" cy="663.15" r="6.75" fill="#f46d43"/><circle cx="212.90" cy="619.71" r="6.75" fill="#f46d43"/><circle cx="270.07" cy="628.83" r="6.75" fill="#f46d43"/><circle cx="313.90" cy="579.88" r="6.75" fill="#f46d43"/><circle cx="372.33" cy="541.32" r="6.75" fill="#f46d43"/><circle cx="166.66" cy="809.37" r="6.75" fill="#fee08b"/><circle cx="169.08" cy="799.77" r="6.75" fill="#fee08b"/><circle cx="175.65" cy="772.38" r="6.75" fill="#fee08b"/><circle cx="180.40" cy="730.83" r="6.75" fill="#fee08b"/><circle cx="186.68" cy="693.05" r="6.75" fill="#fee08b"/><circle cx="192.20" cy="659.84" r="6.75" fill="#fee08b"/><circle cx="216.96" cy="623.01" r="6.75" fill="#fee08b"/><circle cx="273.46" cy="588.23" r="6.75" fill="#fee08b"/><circle cx="318.64" cy="579.88" r="6.75" fill="#fee08b"/><circle cx="375.71" cy="504.80" r="6.75" fill="#fee08b"/><circle cx="184.36" cy="746.25" r="6.75" fill="#bfbfbf"/><circle cx="186.10" cy="730.04" r="6.75" fill="#bfbfbf"/><circle cx="191.23" cy="709.27" r="6.75" fill="#bfbfbf"/><circle cx="195.58" cy="681.88" r="6.75" fill="#bfbfbf"/><circle cx="200.90" cy="654.02" r="6.75" fill="#bfbfbf"/><circle cx="206.71" cy="648.19" r="6.75" fill="#bfbfbf"/><circle cx="239.99" cy="635.60" r="6.75" fill="#bfbfbf"/><circle cx="289.23" cy="634.82" r="6.75" fill="#bfbfbf"/><circle cx="340.98" cy="605.70" r="6.75" fill="#bfbfbf"/><circle cx="402.71" cy="587.28" r="6.75" fill="#bfbfbf"/><circle cx="189.97" cy="780.73" r="6.75" fill="#66c2a5"/><circle cx="192.29" cy="764.36" r="6.75" fill="#66c2a5"/><circle cx="196.55" cy="732.25" r="6.75" fill="#66c2a5"/><circle cx="202.16" cy="722.17" r="6.75" fill="#66c2a5"/><circle cx="208.64" cy="678.10" r="6.75" fill="#66c2a5"/><circle cx="216.87" cy="666.14" r="6.75" fill="#66c2a5"/><circle cx="251.21" cy="626.32" r="6.75" fill="#66c2a5"/><circle cx="312.64" cy="631.98" r="6.75" fill="#66c2a5"/><circle cx="363.04" cy="617.34" r="6.75" fill="#66c2a5"/><circle cx="425.83" cy="574.69" r="6.75" fill="#66c2a5"/><circle cx="202.16" cy="746.25" r="6.75" fill="#3288bd"/><circle cx="202.84" cy="701.55" r="6.75" fill="#3288bd"/><circle cx="207.00" cy="710.37" r="6.75" fill="#3288bd"/><circle cx="209.13" cy="693.68" r="6.75" fill="#3288bd"/><circle cx="214.45" cy="696.67" r="6.75" fill="#3288bd"/><circle cx="220.54" cy="677.16" r="6.75" fill="#3288bd"/><circle cx="245.79" cy="661.26" r="6.75" fill="#3288bd"/><circle cx="292.13" cy="624.43" r="6.75" fill="#3288bd"/><circle cx="331.79" cy="632.30" r="6.75" fill="#3288bd"/><circle cx="380.16" cy="558.79" r="6.75" fill="#3288bd"/><circle cx="213.00" cy="729.10" r="6.75" fill="#5e4fa2"/><circle cx="216.96" cy="742.63" r="6.75" fill="#5e4fa2"/><circle cx="222.67" cy="726.58" r="6.75" fill="#5e4fa2"/><circle cx="226.54" cy="704.86" r="6.75" fill="#5e4fa2"/><circle cx="233.31" cy="701.40" r="6.75" fill="#5e4fa2"/><circle cx="239.12" cy="689.91" r="6.75" fill="#5e4fa2"/><circle cx="269.11" cy="658.74" r="6.75" fill="#5e4fa2"/><circle cx="321.25" cy="635.92" r="6.75" fill="#5e4fa2"/><circle cx="364.49" cy="579.57" r="6.75" fill="#5e4fa2"/><circle cx="419.25" cy="524.16" r="6.75" fill="#5e4fa2"/></g>
<clipPath id="clipd"><rect x="614.20" y="497.90" width="360.70" height="343.40"/></clipPath>
<g stroke="#1e1e1e" stroke-width="1.6" fill="none" clip-path="url(#clipd)"><line x1="673.72" y1="803.18" x2="673.72" y2="813.48"/><line x1="670.02" y1="803.18" x2="677.42" y2="803.18"/><line x1="670.02" y1="813.48" x2="677.42" y2="813.48"/><line x1="675.92" y1="778.11" x2="675.92" y2="788.42"/><line x1="672.22" y1="778.11" x2="679.62" y2="778.11"/><line x1="672.22" y1="788.42" x2="679.62" y2="788.42"/><line x1="680.23" y1="745.83" x2="680.23" y2="756.14"/><line x1="676.53" y1="745.83" x2="683.93" y2="745.83"/><line x1="676.53" y1="756.14" x2="683.93" y2="756.14"/><line x1="685.20" y1="712.18" x2="685.20" y2="722.48"/><line x1="681.50" y1="712.18" x2="688.90" y2="712.18"/><line x1="681.50" y1="722.48" x2="688.90" y2="722.48"/><line x1="687.88" y1="694.32" x2="687.88" y2="731.41"/><line x1="684.18" y1="694.32" x2="691.58" y2="694.32"/><line x1="684.18" y1="731.41" x2="691.58" y2="731.41"/><line x1="695.06" y1="685.05" x2="695.06" y2="695.36"/><line x1="691.36" y1="685.05" x2="698.76" y2="685.05"/><line x1="691.36" y1="695.36" x2="698.76" y2="695.36"/><line x1="726.84" y1="670.63" x2="726.84" y2="693.29"/><line x1="723.14" y1="670.63" x2="730.54" y2="670.63"/><line x1="723.14" y1="693.29" x2="730.54" y2="693.29"/><line x1="779.57" y1="666.51" x2="779.57" y2="697.42"/><line x1="775.87" y1="666.51" x2="783.27" y2="666.51"/><line x1="775.87" y1="697.42" x2="783.27" y2="697.42"/><line x1="823.12" y1="668.23" x2="823.12" y2="693.64"/><line x1="819.42" y1="668.23" x2="826.82" y2="668.23"/><line x1="819.42" y1="693.64" x2="826.82" y2="693.64"/><line x1="874.32" y1="659.64" x2="874.32" y2="693.29"/><line x1="870.62" y1="659.64" x2="878.02" y2="659.64"/><line x1="870.62" y1="693.29" x2="878.02" y2="693.29"/><line x1="673.72" y1="803.53" x2="673.72" y2="813.83"/><line x1="670.02" y1="803.53" x2="677.42" y2="803.53"/><line x1="670.02" y1="813.83" x2="677.42" y2="813.83"/><line x1="678.50" y1="757.17" x2="678.50" y2="767.47"/><line x1="674.80" y1="757.17" x2="682.20" y2="757.17"/><line x1="674.80" y1="767.47" x2="682.20" y2="767.47"/><line x1="682.81" y1="716.99" x2="682.81" y2="727.29"/><line x1="679.11" y1="716.99" x2="686.51" y2="716.99"/><line x1="679.11" y1="727.29" x2="686.51" y2="727.29"/><line x1="688.36" y1="689.86" x2="688.36" y2="700.16"/><line x1="684.66" y1="689.86" x2="692.06" y2="689.86"/><line x1="684.66" y1="700.16" x2="692.06" y2="700.16"/><line x1="693.63" y1="660.67" x2="693.63" y2="681.28"/><line x1="689.93" y1="660.67" x2="697.33" y2="660.67"/><line x1="689.93" y1="681.28" x2="697.33" y2="681.28"/><line x1="699.37" y1="657.92" x2="699.37" y2="668.23"/><line x1="695.67" y1="657.92" x2="703.07" y2="657.92"/><line x1="695.67" y1="668.23" x2="703.07" y2="668.23"/><line x1="730.85" y1="649.00" x2="730.85" y2="659.30"/><line x1="727.15" y1="649.00" x2="734.55" y2="649.00"/><line x1="727.15" y1="659.30" x2="734.55" y2="659.30"/><line x1="787.42" y1="623.24" x2="787.42" y2="674.75"/><line x1="783.72" y1="623.24" x2="791.12" y2="623.24"/><line x1="783.72" y1="674.75" x2="791.12" y2="674.75"/><line x1="830.77" y1="617.75" x2="830.77" y2="679.56"/><line x1="827.07" y1="617.75" x2="834.47" y2="617.75"/><line x1="827.07" y1="679.56" x2="834.47" y2="679.56"/><line x1="888.58" y1="599.55" x2="888.58" y2="675.09"/><line x1="884.88" y1="599.55" x2="892.28" y2="599.55"/><line x1="884.88" y1="675.09" x2="892.28" y2="675.09"/><line x1="685.11" y1="781.20" x2="685.11" y2="791.51"/><line x1="681.41" y1="781.20" x2="688.81" y2="781.20"/><line x1="681.41" y1="791.51" x2="688.81" y2="791.51"/><line x1="687.50" y1="768.50" x2="687.50" y2="778.80"/><line x1="683.80" y1="768.50" x2="691.20" y2="768.50"/><line x1="683.80" y1="778.80" x2="691.20" y2="778.80"/><line x1="694.01" y1="723.17" x2="694.01" y2="733.47"/><line x1="690.31" y1="723.17" x2="697.71" y2="723.17"/><line x1="690.31" y1="733.47" x2="697.71" y2="733.47"/><line x1="698.70" y1="698.45" x2="698.70" y2="708.75"/><line x1="695.00" y1="698.45" x2="702.40" y2="698.45"/><line x1="695.00" y1="708.75" x2="702.40" y2="708.75"/><line x1="704.92" y1="679.56" x2="704.92" y2="700.16"/><line x1="701.22" y1="679.56" x2="708.62" y2="679.56"/><line x1="701.22" y1="700.16" x2="708.62" y2="700.16"/><line x1="710.37" y1="647.28" x2="710.37" y2="671.32"/><line x1="706.67" y1="647.28" x2="714.07" y2="647.28"/><line x1="706.67" y1="671.32" x2="714.07" y2="671.32"/><line x1="734.87" y1="652.43" x2="734.87" y2="662.73"/><line x1="731.17" y1="652.43" x2="738.57" y2="652.43"/><line x1="731.17" y1="662.73" x2="738.57" y2="662.73"/><line x1="790.77" y1="656.89" x2="790.77" y2="684.37"/><line x1="787.07" y1="656.89" x2="794.47" y2="656.89"/><line x1="787.07" y1="684.37" x2="794.47" y2="684.37"/><line x1="835.46" y1="626.33" x2="835.46" y2="692.26"/><line x1="831.76" y1="626.33" x2="839.16" y2="626.33"/><line x1="831.76" y1="692.26" x2="839.16" y2="692.26"/><line x1="891.93" y1="604.70" x2="891.93" y2="680.25"/><line x1="888.23" y1="604.70" x2="895.63" y2="604.70"/><line x1="888.23" y1="680.25" x2="895.63" y2="680.25"/><line x1="702.62" y1="699.82" x2="702.62" y2="710.12"/><line x1="698.92" y1="699.82" x2="706.32" y2="699.82"/><line x1="698.92" y1="710.12" x2="706.32" y2="710.12"/><line x1="704.34" y1="696.39" x2="704.34" y2="714.24"/><line x1="700.64" y1="696.39" x2="708.04" y2="696.39"/><line x1="700.64" y1="714.24" x2="708.04" y2="714.24"/><line x1="709.42" y1="691.92" x2="709.42" y2="702.22"/><line x1="705.72" y1="691.92" x2="713.12" y2="691.92"/><line x1="705.72" y1="702.22" x2="713.12" y2="702.22"/><line x1="713.72" y1="686.43" x2="713.72" y2="696.73"/><line x1="710.02" y1="686.43" x2="717.42" y2="686.43"/><line x1="710.02" y1="696.73" x2="717.42" y2="696.73"/><line x1="718.99" y1="679.56" x2="718.99" y2="689.86"/><line x1="715.29" y1="679.56" x2="722.69" y2="679.56"/><line x1="715.29" y1="689.86" x2="722.69" y2="689.86"/><line x1="724.73" y1="653.80" x2="724.73" y2="681.28"/><line x1="721.03" y1="653.80" x2="728.43" y2="653.80"/><line x1="721.03" y1="681.28" x2="728.43" y2="681.28"/><line x1="757.65" y1="615.00" x2="757.65" y2="656.21"/><line x1="753.95" y1="615.00" x2="761.35" y2="615.00"/><line x1="753.95" y1="656.21" x2="761.35" y2="656.21"/><line x1="806.37" y1="576.54" x2="806.37" y2="640.41"/><line x1="802.67" y1="576.54" x2="810.07" y2="576.54"/><line x1="802.67" y1="640.41" x2="810.07" y2="640.41"/><line x1="857.57" y1="497.90" x2="857.57" y2="567.61"/><line x1="853.87" y1="567.61" x2="861.27" y2="567.61"/><line x1="918.63" y1="497.90" x2="918.63" y2="583.41"/><line x1="914.93" y1="583.41" x2="922.33" y2="583.41"/><line x1="708.17" y1="718.71" x2="708.17" y2="729.01"/><line x1="704.47" y1="718.71" x2="711.87" y2="718.71"/><line x1="704.47" y1="729.01" x2="711.87" y2="729.01"/><line x1="710.47" y1="699.82" x2="710.47" y2="713.56"/><line x1="706.77" y1="699.82" x2="714.17" y2="699.82"/><line x1="706.77" y1="713.56" x2="714.17" y2="713.56"/><line x1="714.68" y1="682.65" x2="714.68" y2="692.95"/><line x1="710.98" y1="682.65" x2="718.38" y2="682.65"/><line x1="710.98" y1="692.95" x2="718.38" y2="692.95"/><line x1="720.23" y1="679.90" x2="720.23" y2="693.64"/><line x1="716.53" y1="679.90" x2="723.93" y2="679.90"/><line x1="716.53" y1="693.64" x2="723.93" y2="693.64"/><line x1="726.64" y1="674.06" x2="726.64" y2="684.37"/><line x1="722.94" y1="674.06" x2="730.34" y2="674.06"/><line x1="722.94" y1="684.37" x2="730.34" y2="684.37"/><line x1="734.78" y1="669.26" x2="734.78" y2="679.56"/><line x1="731.08" y1="669.26" x2="738.48" y2="669.26"/><line x1="731.08" y1="679.56" x2="738.48" y2="679.56"/><line x1="768.75" y1="621.87" x2="768.75" y2="656.21"/><line x1="765.05" y1="621.87" x2="772.45" y2="621.87"/><line x1="765.05" y1="656.21" x2="772.45" y2="656.21"/><line x1="829.53" y1="613.63" x2="829.53" y2="653.46"/><line x1="825.83" y1="613.63" x2="833.23" y2="613.63"/><line x1="825.83" y1="653.46" x2="833.23" y2="653.46"/><line x1="879.39" y1="567.95" x2="879.39" y2="609.16"/><line x1="875.69" y1="567.95" x2="883.09" y2="567.95"/><line x1="875.69" y1="609.16" x2="883.09" y2="609.16"/><line x1="941.50" y1="505.45" x2="941.50" y2="591.99"/><line x1="937.80" y1="505.45" x2="945.20" y2="505.45"/><line x1="937.80" y1="591.99" x2="945.20" y2="591.99"/><line x1="720.23" y1="668.57" x2="720.23" y2="687.11"/><line x1="716.53" y1="668.57" x2="723.93" y2="668.57"/><line x1="716.53" y1="687.11" x2="723.93" y2="687.11"/><line x1="720.90" y1="655.18" x2="720.90" y2="665.48"/><line x1="717.20" y1="655.18" x2="724.60" y2="655.18"/><line x1="717.20" y1="665.48" x2="724.60" y2="665.48"/><line x1="725.02" y1="663.08" x2="725.02" y2="676.81"/><line x1="721.32" y1="663.08" x2="728.72" y2="663.08"/><line x1="721.32" y1="676.81" x2="728.72" y2="676.81"/><line x1="727.12" y1="652.09" x2="727.12" y2="662.39"/><line x1="723.42" y1="652.09" x2="730.82" y2="652.09"/><line x1="723.42" y1="662.39" x2="730.82" y2="662.39"/><line x1="732.39" y1="672.35" x2="732.39" y2="682.65"/><line x1="728.69" y1="672.35" x2="736.09" y2="672.35"/><line x1="728.69" y1="682.65" x2="736.09" y2="682.65"/><line x1="738.42" y1="647.62" x2="738.42" y2="657.92"/><line x1="734.72" y1="647.62" x2="742.12" y2="647.62"/><line x1="734.72" y1="657.92" x2="742.12" y2="657.92"/><line x1="763.39" y1="641.10" x2="763.39" y2="661.70"/><line x1="759.69" y1="641.10" x2="767.09" y2="641.10"/><line x1="759.69" y1="661.70" x2="767.09" y2="661.70"/><line x1="809.24" y1="634.92" x2="809.24" y2="676.81"/><line x1="805.54" y1="634.92" x2="812.94" y2="634.92"/><line x1="805.54" y1="676.81" x2="812.94" y2="676.81"/><line x1="848.48" y1="600.23" x2="848.48" y2="684.71"/><line x1="844.78" y1="600.23" x2="852.18" y2="600.23"/><line x1="844.78" y1="684.71" x2="852.18" y2="684.71"/><line x1="896.33" y1="567.27" x2="896.33" y2="633.89"/><line x1="892.63" y1="567.27" x2="900.03" y2="567.27"/><line x1="892.63" y1="633.89" x2="900.03" y2="633.89"/><line x1="730.95" y1="634.23" x2="730.95" y2="658.27"/><line x1="727.25" y1="634.23" x2="734.65" y2="634.23"/><line x1="727.25" y1="658.27" x2="734.65" y2="658.27"/><line x1="734.87" y1="641.44" x2="734.87" y2="659.30"/><line x1="731.17" y1="641.44" x2="738.57" y2="641.44"/><line x1="731.17" y1="659.30" x2="738.57" y2="659.30"/><line x1="740.52" y1="650.03" x2="740.52" y2="660.33"/><line x1="736.82" y1="650.03" x2="744.22" y2="650.03"/><line x1="736.82" y1="660.33" x2="744.22" y2="660.33"/><line x1="744.35" y1="631.14" x2="744.35" y2="651.74"/><line x1="740.65" y1="631.14" x2="748.05" y2="631.14"/><line x1="740.65" y1="651.74" x2="748.05" y2="651.74"/><line x1="751.05" y1="594.40" x2="751.05" y2="662.39"/><line x1="747.35" y1="594.40" x2="754.75" y2="594.40"/><line x1="747.35" y1="662.39" x2="754.75" y2="662.39"/><line x1="756.79" y1="615.69" x2="756.79" y2="646.59"/><line x1="753.09" y1="615.69" x2="760.49" y2="615.69"/><line x1="753.09" y1="646.59" x2="760.49" y2="646.59"/><line x1="786.46" y1="645.56" x2="786.46" y2="673.03"/><line x1="782.76" y1="645.56" x2="790.16" y2="645.56"/><line x1="782.76" y1="673.03" x2="790.16" y2="673.03"/><line x1="838.05" y1="580.66" x2="838.05" y2="626.67"/><line x1="834.35" y1="580.66" x2="841.75" y2="580.66"/><line x1="834.35" y1="626.67" x2="841.75" y2="626.67"/><line x1="880.83" y1="576.88" x2="880.83" y2="599.55"/><line x1="877.13" y1="576.88" x2="884.53" y2="576.88"/><line x1="877.13" y1="599.55" x2="884.53" y2="599.55"/><line x1="935.00" y1="533.96" x2="935.00" y2="630.80"/><line x1="931.30" y1="533.96" x2="938.70" y2="533.96"/><line x1="931.30" y1="630.80" x2="938.70" y2="630.80"/></g>
<g stroke="#000" stroke-width="1.35"><circle cx="672.22" cy="808.33" r="6.75" fill="#9e0142"/><circle cx="674.42" cy="783.27" r="6.75" fill="#9e0142"/><circle cx="678.73" cy="750.99" r="6.75" fill="#9e0142"/><circle cx="683.70" cy="717.33" r="6.75" fill="#9e0142"/><circle cx="686.38" cy="712.87" r="6.75" fill="#9e0142"/><circle cx="693.56" cy="690.20" r="6.75" fill="#9e0142"/><circle cx="725.34" cy="681.96" r="6.75" fill="#9e0142"/><circle cx="778.07" cy="681.96" r="6.75" fill="#9e0142"/><circle cx="821.62" cy="680.93" r="6.75" fill="#9e0142"/><circle cx="872.82" cy="676.47" r="6.75" fill="#9e0142"/><circle cx="672.22" cy="808.68" r="6.75" fill="#f46d43"/><circle cx="677.00" cy="762.32" r="6.75" fill="#f46d43"/><circle cx="681.31" cy="722.14" r="6.75" fill="#f46d43"/><circle cx="686.86" cy="695.01" r="6.75" fill="#f46d43"/><circle cx="692.13" cy="670.97" r="6.75" fill="#f46d43"/><circle cx="697.87" cy="663.08" r="6.75" fill="#f46d43"/><circle cx="729.35" cy="654.15" r="6.75" fill="#f46d43"/><circle cx="785.92" cy="649.00" r="6.75" fill="#f46d43"/><circle cx="829.27" cy="648.65" r="6.75" fill="#f46d43"/><circle cx="887.08" cy="637.32" r="6.75" fill="#f46d43"/><circle cx="683.61" cy="786.36" r="6.75" fill="#fee08b"/><circle cx="686.00" cy="773.65" r="6.75" fill="#fee08b"/><circle cx="692.51" cy="728.32" r="6.75" fill="#fee08b"/><circle cx="697.20" cy="703.60" r="6.75" fill="#fee08b"/><circle cx="703.42" cy="689.86" r="6.75" fill="#fee08b"/><circle cx="708.87" cy="659.30" r="6.75" fill="#fee08b"/><circle cx="733.37" cy="657.58" r="6.75" fill="#fee08b"/><circle cx="789.27" cy="670.63" r="6.75" fill="#fee08b"/><circle cx="833.96" cy="659.30" r="6.75" fill="#fee08b"/><circle cx="890.43" cy="642.47" r="6.75" fill="#fee08b"/><circle cx="701.12" cy="704.97" r="6.75" fill="#bfbfbf"/><circle cx="702.84" cy="705.31" r="6.75" fill="#bfbfbf"/><circle cx="707.92" cy="697.07" r="6.75" fill="#bfbfbf"/><circle cx="712.22" cy="691.58" r="6.75" fill="#bfbfbf"/><circle cx="717.49" cy="684.71" r="6.75" fill="#bfbfbf"/><circle cx="723.23" cy="667.54" r="6.75" fill="#bfbfbf"/><circle cx="756.15" cy="635.60" r="6.75" fill="#bfbfbf"/><circle cx="804.87" cy="608.47" r="6.75" fill="#bfbfbf"/><circle cx="856.07" cy="526.40" r="6.75" fill="#bfbfbf"/><circle cx="917.13" cy="499.96" r="6.75" fill="#bfbfbf"/><circle cx="706.67" cy="723.86" r="6.75" fill="#66c2a5"/><circle cx="708.97" cy="706.69" r="6.75" fill="#66c2a5"/><circle cx="713.18" cy="687.80" r="6.75" fill="#66c2a5"/><circle cx="718.73" cy="686.77" r="6.75" fill="#66c2a5"/><circle cx="725.14" cy="679.22" r="6.75" fill="#66c2a5"/><circle cx="733.28" cy="674.41" r="6.75" fill="#66c2a5"/><circle cx="767.25" cy="639.04" r="6.75" fill="#66c2a5"/><circle cx="828.03" cy="633.54" r="6.75" fill="#66c2a5"/><circle cx="877.89" cy="588.56" r="6.75" fill="#66c2a5"/><circle cx="940.00" cy="548.72" r="6.75" fill="#66c2a5"/><circle cx="718.73" cy="677.84" r="6.75" fill="#3288bd"/><circle cx="719.40" cy="660.33" r="6.75" fill="#3288bd"/><circle cx="723.52" cy="669.94" r="6.75" fill="#3288bd"/><circle cx="725.62" cy="657.24" r="6.75" fill="#3288bd"/><circle cx="730.89" cy="677.50" r="6.75" fill="#3288bd"/><circle cx="736.92" cy="652.77" r="6.75" fill="#3288bd"/><circle cx="761.89" cy="651.40" r="6.75" fill="#3288bd"/><circle cx="807.74" cy="655.86" r="6.75" fill="#3288bd"/><circle cx="846.98" cy="642.47" r="6.75" fill="#3288bd"/><circle cx="894.83" cy="600.58" r="6.75" fill="#3288bd"/><circle cx="729.45" cy="646.25" r="6.75" fill="#5e4fa2"/><circle cx="733.37" cy="650.37" r="6.75" fill="#5e4fa2"/><circle cx="739.02" cy="655.18" r="6.75" fill="#5e4fa2"/><circle cx="742.85" cy="641.44" r="6.75" fill="#5e4fa2"/><circle cx="749.55" cy="628.39" r="6.75" fill="#5e4fa2"/><circle cx="755.29" cy="631.14" r="6.75" fill="#5e4fa2"/><circle cx="784.96" cy="659.30" r="6.75" fill="#5e4fa2"/><circle cx="836.55" cy="603.67" r="6.75" fill="#5e4fa2"/><circle cx="879.33" cy="588.21" r="6.75" fill="#5e4fa2"/><circle cx="933.50" cy="582.38" r="6.75" fill="#5e4fa2"/></g>
<clipPath id="clipe"><rect x="96.80" y="984.50" width="357.30" height="345.50"/></clipPath>
<g stroke="#1e1e1e" stroke-width="1.6" fill="none" clip-path="url(#clipe)"><line x1="96.60" y1="1289.21" x2="96.60" y2="1301.81"/><line x1="92.90" y1="1289.21" x2="100.30" y2="1289.21"/><line x1="92.90" y1="1301.81" x2="100.30" y2="1301.81"/><line x1="124.89" y1="1265.90" x2="124.89" y2="1278.50"/><line x1="121.19" y1="1265.90" x2="128.59" y2="1265.90"/><line x1="121.19" y1="1278.50" x2="128.59" y2="1278.50"/><line x1="148.81" y1="1222.90" x2="148.81" y2="1235.50"/><line x1="145.11" y1="1222.90" x2="152.51" y2="1222.90"/><line x1="145.11" y1="1235.50" x2="152.51" y2="1235.50"/><line x1="169.53" y1="1203.06" x2="169.53" y2="1215.65"/><line x1="165.83" y1="1203.06" x2="173.23" y2="1203.06"/><line x1="165.83" y1="1215.65" x2="173.23" y2="1215.65"/><line x1="187.81" y1="1175.49" x2="187.81" y2="1197.54"/><line x1="184.11" y1="1175.49" x2="191.51" y2="1175.49"/><line x1="184.11" y1="1197.54" x2="191.51" y2="1197.54"/><line x1="204.16" y1="1159.74" x2="204.16" y2="1172.34"/><line x1="200.46" y1="1159.74" x2="207.86" y2="1159.74"/><line x1="200.46" y1="1172.34" x2="207.86" y2="1172.34"/><line x1="267.08" y1="1088.39" x2="267.08" y2="1107.29"/><line x1="263.38" y1="1088.39" x2="270.78" y2="1088.39"/><line x1="263.38" y1="1107.29" x2="270.78" y2="1107.29"/><line x1="346.34" y1="1067.13" x2="346.34" y2="1087.92"/><line x1="342.64" y1="1067.13" x2="350.04" y2="1067.13"/><line x1="342.64" y1="1087.92" x2="350.04" y2="1087.92"/><line x1="398.55" y1="1079.73" x2="398.55" y2="1126.67"/><line x1="394.85" y1="1079.73" x2="402.25" y2="1079.73"/><line x1="394.85" y1="1126.67" x2="402.25" y2="1126.67"/><line x1="453.90" y1="1033.43" x2="453.90" y2="1080.36"/><line x1="450.20" y1="1033.43" x2="457.60" y2="1033.43"/><line x1="450.20" y1="1080.36" x2="457.60" y2="1080.36"/><line x1="96.60" y1="1289.21" x2="96.60" y2="1301.81"/><line x1="92.90" y1="1289.21" x2="100.30" y2="1289.21"/><line x1="92.90" y1="1301.81" x2="100.30" y2="1301.81"/><line x1="124.89" y1="1270.94" x2="124.89" y2="1283.54"/><line x1="121.19" y1="1270.94" x2="128.59" y2="1270.94"/><line x1="121.19" y1="1283.54" x2="128.59" y2="1283.54"/><line x1="148.81" y1="1230.46" x2="148.81" y2="1250.62"/><line x1="145.11" y1="1230.46" x2="152.51" y2="1230.46"/><line x1="145.11" y1="1250.62" x2="152.51" y2="1250.62"/><line x1="169.53" y1="1223.21" x2="169.53" y2="1235.82"/><line x1="165.83" y1="1223.21" x2="173.23" y2="1223.21"/><line x1="165.83" y1="1235.82" x2="173.23" y2="1235.82"/><line x1="187.81" y1="1172.97" x2="187.81" y2="1185.57"/><line x1="184.11" y1="1172.97" x2="191.51" y2="1172.97"/><line x1="184.11" y1="1185.57" x2="191.51" y2="1185.57"/><line x1="204.16" y1="1142.73" x2="204.16" y2="1155.33"/><line x1="200.46" y1="1142.73" x2="207.86" y2="1142.73"/><line x1="200.46" y1="1155.33" x2="207.86" y2="1155.33"/><line x1="267.08" y1="1094.54" x2="267.08" y2="1116.59"/><line x1="263.38" y1="1094.54" x2="270.78" y2="1094.54"/><line x1="263.38" y1="1116.59" x2="270.78" y2="1116.59"/><line x1="346.34" y1="1099.74" x2="346.34" y2="1129.66"/><line x1="342.64" y1="1099.74" x2="350.04" y2="1099.74"/><line x1="342.64" y1="1129.66" x2="350.04" y2="1129.66"/><line x1="398.55" y1="1042.09" x2="398.55" y2="1089.34"/><line x1="394.85" y1="1042.09" x2="402.25" y2="1042.09"/><line x1="394.85" y1="1089.34" x2="402.25" y2="1089.34"/><line x1="453.90" y1="1011.38" x2="453.90" y2="1042.88"/><line x1="450.20" y1="1011.38" x2="457.60" y2="1011.38"/><line x1="450.20" y1="1042.88" x2="457.60" y2="1042.88"/><line x1="96.60" y1="1289.05" x2="96.60" y2="1301.65"/><line x1="92.90" y1="1289.05" x2="100.30" y2="1289.05"/><line x1="92.90" y1="1301.65" x2="100.30" y2="1301.65"/><line x1="124.89" y1="1279.44" x2="124.89" y2="1292.04"/><line x1="121.19" y1="1279.44" x2="128.59" y2="1279.44"/><line x1="121.19" y1="1292.04" x2="128.59" y2="1292.04"/><line x1="148.81" y1="1248.57" x2="148.81" y2="1268.10"/><line x1="145.11" y1="1248.57" x2="152.51" y2="1248.57"/><line x1="145.11" y1="1268.10" x2="152.51" y2="1268.10"/><line x1="169.53" y1="1210.46" x2="169.53" y2="1223.06"/><line x1="165.83" y1="1210.46" x2="173.23" y2="1210.46"/><line x1="165.83" y1="1223.06" x2="173.23" y2="1223.06"/><line x1="187.81" y1="1172.66" x2="187.81" y2="1185.26"/><line x1="184.11" y1="1172.66" x2="191.51" y2="1172.66"/><line x1="184.11" y1="1185.26" x2="191.51" y2="1185.26"/><line x1="204.16" y1="1134.70" x2="204.16" y2="1156.75"/><line x1="200.46" y1="1134.70" x2="207.86" y2="1134.70"/><line x1="200.46" y1="1156.75" x2="207.86" y2="1156.75"/><line x1="267.08" y1="1095.48" x2="267.08" y2="1122.26"/><line x1="263.38" y1="1095.48" x2="270.78" y2="1095.48"/><line x1="263.38" y1="1122.26" x2="270.78" y2="1122.26"/><line x1="346.34" y1="1056.89" x2="346.34" y2="1091.23"/><line x1="342.64" y1="1056.89" x2="350.04" y2="1056.89"/><line x1="342.64" y1="1091.23" x2="350.04" y2="1091.23"/><line x1="398.55" y1="1054.22" x2="398.55" y2="1077.21"/><line x1="394.85" y1="1054.22" x2="402.25" y2="1054.22"/><line x1="394.85" y1="1077.21" x2="402.25" y2="1077.21"/><line x1="453.90" y1="984.50" x2="453.90" y2="1010.43"/><line x1="450.20" y1="1010.43" x2="457.60" y2="1010.43"/><line x1="96.60" y1="1225.89" x2="96.60" y2="1238.49"/><line x1="92.90" y1="1225.89" x2="100.30" y2="1225.89"/><line x1="92.90" y1="1238.49" x2="100.30" y2="1238.49"/><line x1="124.89" y1="1209.67" x2="124.89" y2="1222.27"/><line x1="121.19" y1="1209.67" x2="128.59" y2="1209.67"/><line x1="121.19" y1="1222.27" x2="128.59" y2="1222.27"/><line x1="148.81" y1="1186.20" x2="148.81" y2="1204.16"/><line x1="145.11" y1="1186.20" x2="152.51" y2="1186.20"/><line x1="145.11" y1="1204.16" x2="152.51" y2="1204.16"/><line x1="169.53" y1="1159.43" x2="169.53" y2="1176.12"/><line x1="165.83" y1="1159.43" x2="173.23" y2="1159.43"/><line x1="165.83" y1="1176.12" x2="173.23" y2="1176.12"/><line x1="187.81" y1="1131.39" x2="187.81" y2="1148.40"/><line x1="184.11" y1="1131.39" x2="191.51" y2="1131.39"/><line x1="184.11" y1="1148.40" x2="191.51" y2="1148.40"/><line x1="204.16" y1="1124.93" x2="204.16" y2="1143.20"/><line x1="200.46" y1="1124.93" x2="207.86" y2="1124.93"/><line x1="200.46" y1="1143.20" x2="207.86" y2="1143.20"/><line x1="267.08" y1="1100.52" x2="267.08" y2="1142.42"/><line x1="263.38" y1="1100.52" x2="270.78" y2="1100.52"/><line x1="263.38" y1="1142.42" x2="270.78" y2="1142.42"/><line x1="346.34" y1="1099.74" x2="346.34" y2="1141.63"/><line x1="342.64" y1="1099.74" x2="350.04" y2="1099.74"/><line x1="342.64" y1="1141.63" x2="350.04" y2="1141.63"/><line x1="398.55" y1="1071.54" x2="398.55" y2="1111.55"/><line x1="394.85" y1="1071.54" x2="402.25" y2="1071.54"/><line x1="394.85" y1="1111.55" x2="402.25" y2="1111.55"/><line x1="453.90" y1="1060.52" x2="453.90" y2="1085.72"/><line x1="450.20" y1="1060.52" x2="457.60" y2="1060.52"/><line x1="450.20" y1="1085.72" x2="457.60" y2="1085.72"/><line x1="96.60" y1="1260.38" x2="96.60" y2="1272.98"/><line x1="92.90" y1="1260.38" x2="100.30" y2="1260.38"/><line x1="92.90" y1="1272.98" x2="100.30" y2="1272.98"/><line x1="124.89" y1="1237.70" x2="124.89" y2="1262.90"/><line x1="121.19" y1="1237.70" x2="128.59" y2="1237.70"/><line x1="121.19" y1="1262.90" x2="128.59" y2="1262.90"/><line x1="148.81" y1="1211.88" x2="148.81" y2="1224.47"/><line x1="145.11" y1="1211.88" x2="152.51" y2="1211.88"/><line x1="145.11" y1="1224.47" x2="152.51" y2="1224.47"/><line x1="169.53" y1="1201.80" x2="169.53" y2="1214.39"/><line x1="165.83" y1="1201.80" x2="173.23" y2="1201.80"/><line x1="165.83" y1="1214.39" x2="173.23" y2="1214.39"/><line x1="187.81" y1="1154.55" x2="187.81" y2="1173.44"/><line x1="184.11" y1="1154.55" x2="191.51" y2="1154.55"/><line x1="184.11" y1="1173.44" x2="191.51" y2="1173.44"/><line x1="204.16" y1="1141.00" x2="204.16" y2="1163.05"/><line x1="200.46" y1="1141.00" x2="207.86" y2="1141.00"/><line x1="200.46" y1="1163.05" x2="207.86" y2="1163.05"/><line x1="267.08" y1="1093.28" x2="267.08" y2="1131.08"/><line x1="263.38" y1="1093.28" x2="270.78" y2="1093.28"/><line x1="263.38" y1="1131.08" x2="270.78" y2="1131.08"/><line x1="346.34" y1="1104.30" x2="346.34" y2="1131.39"/><line x1="342.64" y1="1104.30" x2="350.04" y2="1104.30"/><line x1="342.64" y1="1131.39" x2="350.04" y2="1131.39"/><line x1="398.55" y1="1089.65" x2="398.55" y2="1116.74"/><line x1="394.85" y1="1089.65" x2="402.25" y2="1089.65"/><line x1="394.85" y1="1116.74" x2="402.25" y2="1116.74"/><line x1="453.90" y1="1047.44" x2="453.90" y2="1073.59"/><line x1="450.20" y1="1047.44" x2="457.60" y2="1047.44"/><line x1="450.20" y1="1073.59" x2="457.60" y2="1073.59"/><line x1="96.60" y1="1225.89" x2="96.60" y2="1238.49"/><line x1="92.90" y1="1225.89" x2="100.30" y2="1225.89"/><line x1="92.90" y1="1238.49" x2="100.30" y2="1238.49"/><line x1="124.89" y1="1181.16" x2="124.89" y2="1193.76"/><line x1="121.19" y1="1181.16" x2="128.59" y2="1181.16"/><line x1="121.19" y1="1193.76" x2="128.59" y2="1193.76"/><line x1="148.81" y1="1186.83" x2="148.81" y2="1205.73"/><line x1="145.11" y1="1186.83" x2="152.51" y2="1186.83"/><line x1="145.11" y1="1205.73" x2="152.51" y2="1205.73"/><line x1="169.53" y1="1173.29" x2="169.53" y2="1185.89"/><line x1="165.83" y1="1173.29" x2="173.23" y2="1173.29"/><line x1="165.83" y1="1185.89" x2="173.23" y2="1185.89"/><line x1="187.81" y1="1176.28" x2="187.81" y2="1188.88"/><line x1="184.11" y1="1176.28" x2="191.51" y2="1176.28"/><line x1="184.11" y1="1188.88" x2="191.51" y2="1188.88"/><line x1="204.16" y1="1153.60" x2="204.16" y2="1172.50"/><line x1="200.46" y1="1153.60" x2="207.86" y2="1153.60"/><line x1="200.46" y1="1172.50" x2="207.86" y2="1172.50"/><line x1="267.08" y1="1134.70" x2="267.08" y2="1159.59"/><line x1="263.38" y1="1134.70" x2="270.78" y2="1134.70"/><line x1="263.38" y1="1159.59" x2="270.78" y2="1159.59"/><line x1="346.34" y1="1087.77" x2="346.34" y2="1132.81"/><line x1="342.64" y1="1087.77" x2="350.04" y2="1087.77"/><line x1="342.64" y1="1132.81" x2="350.04" y2="1132.81"/><line x1="398.55" y1="1098.95" x2="398.55" y2="1137.38"/><line x1="394.85" y1="1098.95" x2="402.25" y2="1098.95"/><line x1="394.85" y1="1137.38" x2="402.25" y2="1137.38"/><line x1="453.90" y1="1028.86" x2="453.90" y2="1060.36"/><line x1="450.20" y1="1028.86" x2="457.60" y2="1028.86"/><line x1="450.20" y1="1060.36" x2="457.60" y2="1060.36"/><line x1="96.60" y1="1208.72" x2="96.60" y2="1221.32"/><line x1="92.90" y1="1208.72" x2="100.30" y2="1208.72"/><line x1="92.90" y1="1221.32" x2="100.30" y2="1221.32"/><line x1="124.89" y1="1213.13" x2="124.89" y2="1244.00"/><line x1="121.19" y1="1213.13" x2="128.59" y2="1213.13"/><line x1="121.19" y1="1244.00" x2="128.59" y2="1244.00"/><line x1="148.81" y1="1199.90" x2="148.81" y2="1225.11"/><line x1="145.11" y1="1199.90" x2="152.51" y2="1199.90"/><line x1="145.11" y1="1225.11" x2="152.51" y2="1225.11"/><line x1="169.53" y1="1175.02" x2="169.53" y2="1206.52"/><line x1="165.83" y1="1175.02" x2="173.23" y2="1175.02"/><line x1="165.83" y1="1206.52" x2="173.23" y2="1206.52"/><line x1="187.81" y1="1165.26" x2="187.81" y2="1209.36"/><line x1="184.11" y1="1165.26" x2="191.51" y2="1165.26"/><line x1="184.11" y1="1209.36" x2="191.51" y2="1209.36"/><line x1="204.16" y1="1155.02" x2="204.16" y2="1196.60"/><line x1="200.46" y1="1155.02" x2="207.86" y2="1155.02"/><line x1="200.46" y1="1196.60" x2="207.86" y2="1196.60"/><line x1="267.08" y1="1121.00" x2="267.08" y2="1168.25"/><line x1="263.38" y1="1121.00" x2="270.78" y2="1121.00"/><line x1="263.38" y1="1168.25" x2="270.78" y2="1168.25"/><line x1="346.34" y1="1100.68" x2="346.34" y2="1142.89"/><line x1="342.64" y1="1100.68" x2="350.04" y2="1100.68"/><line x1="342.64" y1="1142.89" x2="350.04" y2="1142.89"/><line x1="398.55" y1="1051.23" x2="398.55" y2="1079.58"/><line x1="394.85" y1="1051.23" x2="402.25" y2="1051.23"/><line x1="394.85" y1="1079.58" x2="402.25" y2="1079.58"/><line x1="453.90" y1="997.36" x2="453.90" y2="1022.56"/><line x1="450.20" y1="997.36" x2="457.60" y2="997.36"/><line x1="450.20" y1="1022.56" x2="457.60" y2="1022.56"/></g>
<g stroke="#000" stroke-width="1.35"><circle cx="96.10" cy="1295.51" r="6.75" fill="#9e0142"/><circle cx="124.39" cy="1272.20" r="6.75" fill="#9e0142"/><circle cx="148.31" cy="1229.20" r="6.75" fill="#9e0142"/><circle cx="169.03" cy="1209.36" r="6.75" fill="#9e0142"/><circle cx="187.31" cy="1186.52" r="6.75" fill="#9e0142"/><circle cx="203.66" cy="1166.04" r="6.75" fill="#9e0142"/><circle cx="266.58" cy="1097.85" r="6.75" fill="#9e0142"/><circle cx="345.84" cy="1077.53" r="6.75" fill="#9e0142"/><circle cx="398.05" cy="1103.20" r="6.75" fill="#9e0142"/><circle cx="453.40" cy="1056.89" r="6.75" fill="#9e0142"/><circle cx="96.10" cy="1295.51" r="6.75" fill="#f46d43"/><circle cx="124.39" cy="1277.24" r="6.75" fill="#f46d43"/><circle cx="148.31" cy="1240.54" r="6.75" fill="#f46d43"/><circle cx="169.03" cy="1229.52" r="6.75" fill="#f46d43"/><circle cx="187.31" cy="1179.27" r="6.75" fill="#f46d43"/><circle cx="203.66" cy="1149.03" r="6.75" fill="#f46d43"/><circle cx="266.58" cy="1105.56" r="6.75" fill="#f46d43"/><circle cx="345.84" cy="1114.70" r="6.75" fill="#f46d43"/><circle cx="398.05" cy="1065.72" r="6.75" fill="#f46d43"/><circle cx="453.40" cy="1027.13" r="6.75" fill="#f46d43"/><circle cx="96.10" cy="1295.35" r="6.75" fill="#fee08b"/><circle cx="124.39" cy="1285.74" r="6.75" fill="#fee08b"/><circle cx="148.31" cy="1258.34" r="6.75" fill="#fee08b"/><circle cx="169.03" cy="1216.76" r="6.75" fill="#fee08b"/><circle cx="187.31" cy="1178.96" r="6.75" fill="#fee08b"/><circle cx="203.66" cy="1145.72" r="6.75" fill="#fee08b"/><circle cx="266.58" cy="1108.87" r="6.75" fill="#fee08b"/><circle cx="345.84" cy="1074.06" r="6.75" fill="#fee08b"/><circle cx="398.05" cy="1065.72" r="6.75" fill="#fee08b"/><circle cx="453.40" cy="990.59" r="6.75" fill="#fee08b"/><circle cx="96.10" cy="1232.19" r="6.75" fill="#bfbfbf"/><circle cx="124.39" cy="1215.97" r="6.75" fill="#bfbfbf"/><circle cx="148.31" cy="1195.18" r="6.75" fill="#bfbfbf"/><circle cx="169.03" cy="1167.77" r="6.75" fill="#bfbfbf"/><circle cx="187.31" cy="1139.90" r="6.75" fill="#bfbfbf"/><circle cx="203.66" cy="1134.07" r="6.75" fill="#bfbfbf"/><circle cx="266.58" cy="1121.47" r="6.75" fill="#bfbfbf"/><circle cx="345.84" cy="1120.68" r="6.75" fill="#bfbfbf"/><circle cx="398.05" cy="1091.55" r="6.75" fill="#bfbfbf"/><circle cx="453.40" cy="1073.12" r="6.75" fill="#bfbfbf"/><circle cx="96.10" cy="1266.68" r="6.75" fill="#66c2a5"/><circle cx="124.39" cy="1250.31" r="6.75" fill="#66c2a5"/><circle cx="148.31" cy="1218.17" r="6.75" fill="#66c2a5"/><circle cx="169.03" cy="1208.10" r="6.75" fill="#66c2a5"/><circle cx="187.31" cy="1163.99" r="6.75" fill="#66c2a5"/><circle cx="203.66" cy="1152.03" r="6.75" fill="#66c2a5"/><circle cx="266.58" cy="1112.18" r="6.75" fill="#66c2a5"/><circle cx="345.84" cy="1117.85" r="6.75" fill="#66c2a5"/><circle cx="398.05" cy="1103.20" r="6.75" fill="#66c2a5"/><circle cx="453.40" cy="1060.52" r="6.75" fill="#66c2a5"/><circle cx="96.10" cy="1232.19" r="6.75" fill="#3288bd"/><circle cx="124.39" cy="1187.46" r="6.75" fill="#3288bd"/><circle cx="148.31" cy="1196.28" r="6.75" fill="#3288bd"/><circle cx="169.03" cy="1179.59" r="6.75" fill="#3288bd"/><circle cx="187.31" cy="1182.58" r="6.75" fill="#3288bd"/><circle cx="203.66" cy="1163.05" r="6.75" fill="#3288bd"/><circle cx="266.58" cy="1147.14" r="6.75" fill="#3288bd"/><circle cx="345.84" cy="1110.29" r="6.75" fill="#3288bd"/><circle cx="398.05" cy="1118.16" r="6.75" fill="#3288bd"/><circle cx="453.40" cy="1044.61" r="6.75" fill="#3288bd"/><circle cx="96.10" cy="1215.02" r="6.75" fill="#5e4fa2"/><circle cx="124.39" cy="1228.57" r="6.75" fill="#5e4fa2"/><circle cx="148.31" cy="1212.50" r="6.75" fill="#5e4fa2"/><circle cx="169.03" cy="1190.77" r="6.75" fill="#5e4fa2"/><circle cx="187.31" cy="1187.31" r="6.75" fill="#5e4fa2"/><circle cx="203.66" cy="1175.81" r="6.75" fill="#5e4fa2"/><circle cx="266.58" cy="1144.62" r="6.75" fill="#5e4fa2"/><circle cx="345.84" cy="1121.79" r="6.75" fill="#5e4fa2"/><circle cx="398.05" cy="1065.40" r="6.75" fill="#5e4fa2"/><circle cx="453.40" cy="1009.96" r="6.75" fill="#5e4fa2"/></g>
<clipPath id="clipf"><rect x="615.50" y="981.60" width="359.50" height="349.40"/></clipPath>
<g stroke="#1e1e1e" stroke-width="1.6" fill="none" clip-path="url(#clipf)"><line x1="615.50" y1="1292.22" x2="615.50" y2="1302.70"/><line x1="611.80" y1="1292.22" x2="619.20" y2="1292.22"/><line x1="611.80" y1="1302.70" x2="619.20" y2="1302.70"/><line x1="643.97" y1="1266.71" x2="643.97" y2="1277.19"/><line x1="640.27" y1="1266.71" x2="647.67" y2="1266.71"/><line x1="640.27" y1="1277.19" x2="647.67" y2="1277.19"/><line x1="668.03" y1="1233.87" x2="668.03" y2="1244.35"/><line x1="664.33" y1="1233.87" x2="671.73" y2="1233.87"/><line x1="664.33" y1="1244.35" x2="671.73" y2="1244.35"/><line x1="688.88" y1="1199.63" x2="688.88" y2="1210.11"/><line x1="685.18" y1="1199.63" x2="692.58" y2="1199.63"/><line x1="685.18" y1="1210.11" x2="692.58" y2="1210.11"/><line x1="707.27" y1="1181.46" x2="707.27" y2="1219.19"/><line x1="703.57" y1="1181.46" x2="710.97" y2="1181.46"/><line x1="703.57" y1="1219.19" x2="710.97" y2="1219.19"/><line x1="723.72" y1="1172.02" x2="723.72" y2="1182.51"/><line x1="720.02" y1="1172.02" x2="727.42" y2="1172.02"/><line x1="720.02" y1="1182.51" x2="727.42" y2="1182.51"/><line x1="787.03" y1="1157.35" x2="787.03" y2="1180.41"/><line x1="783.33" y1="1157.35" x2="790.73" y2="1157.35"/><line x1="783.33" y1="1180.41" x2="790.73" y2="1180.41"/><line x1="866.78" y1="1153.16" x2="866.78" y2="1184.60"/><line x1="863.08" y1="1153.16" x2="870.48" y2="1153.16"/><line x1="863.08" y1="1184.60" x2="870.48" y2="1184.60"/><line x1="919.31" y1="1154.90" x2="919.31" y2="1180.76"/><line x1="915.61" y1="1154.90" x2="923.01" y2="1154.90"/><line x1="915.61" y1="1180.76" x2="923.01" y2="1180.76"/><line x1="975.00" y1="1146.17" x2="975.00" y2="1180.41"/><line x1="971.30" y1="1146.17" x2="978.70" y2="1146.17"/><line x1="971.30" y1="1180.41" x2="978.70" y2="1180.41"/><line x1="615.50" y1="1292.57" x2="615.50" y2="1303.05"/><line x1="611.80" y1="1292.57" x2="619.20" y2="1292.57"/><line x1="611.80" y1="1303.05" x2="619.20" y2="1303.05"/><line x1="643.97" y1="1245.40" x2="643.97" y2="1255.88"/><line x1="640.27" y1="1245.40" x2="647.67" y2="1245.40"/><line x1="640.27" y1="1255.88" x2="647.67" y2="1255.88"/><line x1="668.03" y1="1204.52" x2="668.03" y2="1215.00"/><line x1="664.33" y1="1204.52" x2="671.73" y2="1204.52"/><line x1="664.33" y1="1215.00" x2="671.73" y2="1215.00"/><line x1="688.88" y1="1176.91" x2="688.88" y2="1187.40"/><line x1="685.18" y1="1176.91" x2="692.58" y2="1176.91"/><line x1="685.18" y1="1187.40" x2="692.58" y2="1187.40"/><line x1="707.27" y1="1147.22" x2="707.27" y2="1168.18"/><line x1="703.57" y1="1147.22" x2="710.97" y2="1147.22"/><line x1="703.57" y1="1168.18" x2="710.97" y2="1168.18"/><line x1="723.72" y1="1144.42" x2="723.72" y2="1154.90"/><line x1="720.02" y1="1144.42" x2="727.42" y2="1144.42"/><line x1="720.02" y1="1154.90" x2="727.42" y2="1154.90"/><line x1="787.03" y1="1135.34" x2="787.03" y2="1145.82"/><line x1="783.33" y1="1135.34" x2="790.73" y2="1135.34"/><line x1="783.33" y1="1145.82" x2="790.73" y2="1145.82"/><line x1="866.78" y1="1109.13" x2="866.78" y2="1161.54"/><line x1="863.08" y1="1109.13" x2="870.48" y2="1109.13"/><line x1="863.08" y1="1161.54" x2="870.48" y2="1161.54"/><line x1="919.31" y1="1103.54" x2="919.31" y2="1166.43"/><line x1="915.61" y1="1103.54" x2="923.01" y2="1103.54"/><line x1="915.61" y1="1166.43" x2="923.01" y2="1166.43"/><line x1="975.00" y1="1085.02" x2="975.00" y2="1161.89"/><line x1="971.30" y1="1085.02" x2="978.70" y2="1085.02"/><line x1="971.30" y1="1161.89" x2="978.70" y2="1161.89"/><line x1="615.50" y1="1269.86" x2="615.50" y2="1280.34"/><line x1="611.80" y1="1269.86" x2="619.20" y2="1269.86"/><line x1="611.80" y1="1280.34" x2="619.20" y2="1280.34"/><line x1="643.97" y1="1256.93" x2="643.97" y2="1267.41"/><line x1="640.27" y1="1256.93" x2="647.67" y2="1256.93"/><line x1="640.27" y1="1267.41" x2="647.67" y2="1267.41"/><line x1="668.03" y1="1210.81" x2="668.03" y2="1221.29"/><line x1="664.33" y1="1210.81" x2="671.73" y2="1210.81"/><line x1="664.33" y1="1221.29" x2="671.73" y2="1221.29"/><line x1="688.88" y1="1185.65" x2="688.88" y2="1196.13"/><line x1="685.18" y1="1185.65" x2="692.58" y2="1185.65"/><line x1="685.18" y1="1196.13" x2="692.58" y2="1196.13"/><line x1="707.27" y1="1166.43" x2="707.27" y2="1187.40"/><line x1="703.57" y1="1166.43" x2="710.97" y2="1166.43"/><line x1="703.57" y1="1187.40" x2="710.97" y2="1187.40"/><line x1="723.72" y1="1133.59" x2="723.72" y2="1158.05"/><line x1="720.02" y1="1133.59" x2="727.42" y2="1133.59"/><line x1="720.02" y1="1158.05" x2="727.42" y2="1158.05"/><line x1="787.03" y1="1138.83" x2="787.03" y2="1149.31"/><line x1="783.33" y1="1138.83" x2="790.73" y2="1138.83"/><line x1="783.33" y1="1149.31" x2="790.73" y2="1149.31"/><line x1="866.78" y1="1143.37" x2="866.78" y2="1171.32"/><line x1="863.08" y1="1143.37" x2="870.48" y2="1143.37"/><line x1="863.08" y1="1171.32" x2="870.48" y2="1171.32"/><line x1="919.31" y1="1112.28" x2="919.31" y2="1179.36"/><line x1="915.61" y1="1112.28" x2="923.01" y2="1112.28"/><line x1="915.61" y1="1179.36" x2="923.01" y2="1179.36"/><line x1="975.00" y1="1090.26" x2="975.00" y2="1167.13"/><line x1="971.30" y1="1090.26" x2="978.70" y2="1090.26"/><line x1="971.30" y1="1167.13" x2="978.70" y2="1167.13"/><line x1="615.50" y1="1187.05" x2="615.50" y2="1197.53"/><line x1="611.80" y1="1187.05" x2="619.20" y2="1187.05"/><line x1="611.80" y1="1197.53" x2="619.20" y2="1197.53"/><line x1="643.97" y1="1183.55" x2="643.97" y2="1201.72"/><line x1="640.27" y1="1183.55" x2="647.67" y2="1183.55"/><line x1="640.27" y1="1201.72" x2="647.67" y2="1201.72"/><line x1="668.03" y1="1179.01" x2="668.03" y2="1189.49"/><line x1="664.33" y1="1179.01" x2="671.73" y2="1179.01"/><line x1="664.33" y1="1189.49" x2="671.73" y2="1189.49"/><line x1="688.88" y1="1173.42" x2="688.88" y2="1183.90"/><line x1="685.18" y1="1173.42" x2="692.58" y2="1173.42"/><line x1="685.18" y1="1183.90" x2="692.58" y2="1183.90"/><line x1="707.27" y1="1166.43" x2="707.27" y2="1176.91"/><line x1="703.57" y1="1166.43" x2="710.97" y2="1166.43"/><line x1="703.57" y1="1176.91" x2="710.97" y2="1176.91"/><line x1="723.72" y1="1140.23" x2="723.72" y2="1168.18"/><line x1="720.02" y1="1140.23" x2="727.42" y2="1140.23"/><line x1="720.02" y1="1168.18" x2="727.42" y2="1168.18"/><line x1="787.03" y1="1100.75" x2="787.03" y2="1142.67"/><line x1="783.33" y1="1100.75" x2="790.73" y2="1100.75"/><line x1="783.33" y1="1142.67" x2="790.73" y2="1142.67"/><line x1="866.78" y1="1061.61" x2="866.78" y2="1126.60"/><line x1="863.08" y1="1061.61" x2="870.48" y2="1061.61"/><line x1="863.08" y1="1126.60" x2="870.48" y2="1126.60"/><line x1="919.31" y1="981.60" x2="919.31" y2="1052.53"/><line x1="915.61" y1="1052.53" x2="923.01" y2="1052.53"/><line x1="975.00" y1="981.60" x2="975.00" y2="1068.60"/><line x1="971.30" y1="1068.60" x2="978.70" y2="1068.60"/><line x1="615.50" y1="1206.26" x2="615.50" y2="1216.75"/><line x1="611.80" y1="1206.26" x2="619.20" y2="1206.26"/><line x1="611.80" y1="1216.75" x2="619.20" y2="1216.75"/><line x1="643.97" y1="1187.05" x2="643.97" y2="1201.02"/><line x1="640.27" y1="1187.05" x2="647.67" y2="1187.05"/><line x1="640.27" y1="1201.02" x2="647.67" y2="1201.02"/><line x1="668.03" y1="1169.58" x2="668.03" y2="1180.06"/><line x1="664.33" y1="1169.58" x2="671.73" y2="1169.58"/><line x1="664.33" y1="1180.06" x2="671.73" y2="1180.06"/><line x1="688.88" y1="1166.78" x2="688.88" y2="1180.76"/><line x1="685.18" y1="1166.78" x2="692.58" y2="1166.78"/><line x1="685.18" y1="1180.76" x2="692.58" y2="1180.76"/><line x1="707.27" y1="1160.84" x2="707.27" y2="1171.32"/><line x1="703.57" y1="1160.84" x2="710.97" y2="1160.84"/><line x1="703.57" y1="1171.32" x2="710.97" y2="1171.32"/><line x1="723.72" y1="1155.95" x2="723.72" y2="1166.43"/><line x1="720.02" y1="1155.95" x2="727.42" y2="1155.95"/><line x1="720.02" y1="1166.43" x2="727.42" y2="1166.43"/><line x1="787.03" y1="1107.73" x2="787.03" y2="1142.67"/><line x1="783.33" y1="1107.73" x2="790.73" y2="1107.73"/><line x1="783.33" y1="1142.67" x2="790.73" y2="1142.67"/><line x1="866.78" y1="1099.35" x2="866.78" y2="1139.88"/><line x1="863.08" y1="1099.35" x2="870.48" y2="1099.35"/><line x1="863.08" y1="1139.88" x2="870.48" y2="1139.88"/><line x1="919.31" y1="1052.88" x2="919.31" y2="1094.81"/><line x1="915.61" y1="1052.88" x2="923.01" y2="1052.88"/><line x1="915.61" y1="1094.81" x2="923.01" y2="1094.81"/><line x1="975.00" y1="989.29" x2="975.00" y2="1077.34"/><line x1="971.30" y1="989.29" x2="978.70" y2="989.29"/><line x1="971.30" y1="1077.34" x2="978.70" y2="1077.34"/><line x1="615.50" y1="1155.25" x2="615.50" y2="1174.12"/><line x1="611.80" y1="1155.25" x2="619.20" y2="1155.25"/><line x1="611.80" y1="1174.12" x2="619.20" y2="1174.12"/><line x1="643.97" y1="1141.63" x2="643.97" y2="1152.11"/><line x1="640.27" y1="1141.63" x2="647.67" y2="1141.63"/><line x1="640.27" y1="1152.11" x2="647.67" y2="1152.11"/><line x1="668.03" y1="1149.66" x2="668.03" y2="1163.64"/><line x1="664.33" y1="1149.66" x2="671.73" y2="1149.66"/><line x1="664.33" y1="1163.64" x2="671.73" y2="1163.64"/><line x1="688.88" y1="1138.48" x2="688.88" y2="1148.96"/><line x1="685.18" y1="1138.48" x2="692.58" y2="1138.48"/><line x1="685.18" y1="1148.96" x2="692.58" y2="1148.96"/><line x1="707.27" y1="1159.10" x2="707.27" y2="1169.58"/><line x1="703.57" y1="1159.10" x2="710.97" y2="1159.10"/><line x1="703.57" y1="1169.58" x2="710.97" y2="1169.58"/><line x1="723.72" y1="1133.94" x2="723.72" y2="1144.42"/><line x1="720.02" y1="1133.94" x2="727.42" y2="1133.94"/><line x1="720.02" y1="1144.42" x2="727.42" y2="1144.42"/><line x1="787.03" y1="1127.30" x2="787.03" y2="1148.26"/><line x1="783.33" y1="1127.30" x2="790.73" y2="1127.30"/><line x1="783.33" y1="1148.26" x2="790.73" y2="1148.26"/><line x1="866.78" y1="1121.01" x2="866.78" y2="1163.64"/><line x1="863.08" y1="1121.01" x2="870.48" y2="1121.01"/><line x1="863.08" y1="1163.64" x2="870.48" y2="1163.64"/><line x1="919.31" y1="1085.72" x2="919.31" y2="1171.67"/><line x1="915.61" y1="1085.72" x2="923.01" y2="1085.72"/><line x1="915.61" y1="1171.67" x2="923.01" y2="1171.67"/><line x1="975.00" y1="1052.18" x2="975.00" y2="1119.96"/><line x1="971.30" y1="1052.18" x2="978.70" y2="1052.18"/><line x1="971.30" y1="1119.96" x2="978.70" y2="1119.96"/><line x1="615.50" y1="1120.31" x2="615.50" y2="1144.77"/><line x1="611.80" y1="1120.31" x2="619.20" y2="1120.31"/><line x1="611.80" y1="1144.77" x2="619.20" y2="1144.77"/><line x1="643.97" y1="1127.65" x2="643.97" y2="1145.82"/><line x1="640.27" y1="1127.65" x2="647.67" y2="1127.65"/><line x1="640.27" y1="1145.82" x2="647.67" y2="1145.82"/><line x1="668.03" y1="1136.38" x2="668.03" y2="1146.87"/><line x1="664.33" y1="1136.38" x2="671.73" y2="1136.38"/><line x1="664.33" y1="1146.87" x2="671.73" y2="1146.87"/><line x1="688.88" y1="1117.17" x2="688.88" y2="1138.13"/><line x1="685.18" y1="1117.17" x2="692.58" y2="1117.17"/><line x1="685.18" y1="1138.13" x2="692.58" y2="1138.13"/><line x1="707.27" y1="1079.78" x2="707.27" y2="1148.96"/><line x1="703.57" y1="1079.78" x2="710.97" y2="1079.78"/><line x1="703.57" y1="1148.96" x2="710.97" y2="1148.96"/><line x1="723.72" y1="1101.44" x2="723.72" y2="1132.89"/><line x1="720.02" y1="1101.44" x2="727.42" y2="1101.44"/><line x1="720.02" y1="1132.89" x2="727.42" y2="1132.89"/><line x1="787.03" y1="1131.84" x2="787.03" y2="1159.79"/><line x1="783.33" y1="1131.84" x2="790.73" y2="1131.84"/><line x1="783.33" y1="1159.79" x2="790.73" y2="1159.79"/><line x1="866.78" y1="1065.81" x2="866.78" y2="1112.62"/><line x1="863.08" y1="1065.81" x2="870.48" y2="1065.81"/><line x1="863.08" y1="1112.62" x2="870.48" y2="1112.62"/><line x1="919.31" y1="1061.96" x2="919.31" y2="1085.02"/><line x1="915.61" y1="1061.96" x2="923.01" y2="1061.96"/><line x1="915.61" y1="1085.02" x2="923.01" y2="1085.02"/><line x1="975.00" y1="1018.29" x2="975.00" y2="1116.82"/><line x1="971.30" y1="1018.29" x2="978.70" y2="1018.29"/><line x1="971.30" y1="1116.82" x2="978.70" y2="1116.82"/></g>
<g stroke="#000" stroke-width="1.35"><circle cx="614.10" cy="1297.46" r="6.75" fill="#9e0142"/><circle cx="642.57" cy="1271.95" r="6.75" fill="#9e0142"/><circle cx="666.63" cy="1239.11" r="6.75" fill="#9e0142"/><circle cx="687.48" cy="1204.87" r="6.75" fill="#9e0142"/><circle cx="705.87" cy="1200.32" r="6.75" fill="#9e0142"/><circle cx="722.32" cy="1177.26" r="6.75" fill="#9e0142"/><circle cx="785.63" cy="1168.88" r="6.75" fill="#9e0142"/><circle cx="865.38" cy="1168.88" r="6.75" fill="#9e0142"/><circle cx="917.91" cy="1167.83" r="6.75" fill="#9e0142"/><circle cx="973.60" cy="1163.29" r="6.75" fill="#9e0142"/><circle cx="614.10" cy="1297.81" r="6.75" fill="#f46d43"/><circle cx="642.57" cy="1250.64" r="6.75" fill="#f46d43"/><circle cx="666.63" cy="1209.76" r="6.75" fill="#f46d43"/><circle cx="687.48" cy="1182.16" r="6.75" fill="#f46d43"/><circle cx="705.87" cy="1157.70" r="6.75" fill="#f46d43"/><circle cx="722.32" cy="1149.66" r="6.75" fill="#f46d43"/><circle cx="785.63" cy="1140.58" r="6.75" fill="#f46d43"/><circle cx="865.38" cy="1135.34" r="6.75" fill="#f46d43"/><circle cx="917.91" cy="1134.99" r="6.75" fill="#f46d43"/><circle cx="973.60" cy="1123.46" r="6.75" fill="#f46d43"/><circle cx="614.10" cy="1275.10" r="6.75" fill="#fee08b"/><circle cx="642.57" cy="1262.17" r="6.75" fill="#fee08b"/><circle cx="666.63" cy="1216.05" r="6.75" fill="#fee08b"/><circle cx="687.48" cy="1190.89" r="6.75" fill="#fee08b"/><circle cx="705.87" cy="1176.91" r="6.75" fill="#fee08b"/><circle cx="722.32" cy="1145.82" r="6.75" fill="#fee08b"/><circle cx="785.63" cy="1144.07" r="6.75" fill="#fee08b"/><circle cx="865.38" cy="1157.35" r="6.75" fill="#fee08b"/><circle cx="917.91" cy="1145.82" r="6.75" fill="#fee08b"/><circle cx="973.60" cy="1128.70" r="6.75" fill="#fee08b"/><circle cx="614.10" cy="1192.29" r="6.75" fill="#bfbfbf"/><circle cx="642.57" cy="1192.64" r="6.75" fill="#bfbfbf"/><circle cx="666.63" cy="1184.25" r="6.75" fill="#bfbfbf"/><circle cx="687.48" cy="1178.66" r="6.75" fill="#bfbfbf"/><circle cx="705.87" cy="1171.67" r="6.75" fill="#bfbfbf"/><circle cx="722.32" cy="1154.20" r="6.75" fill="#bfbfbf"/><circle cx="785.63" cy="1121.71" r="6.75" fill="#bfbfbf"/><circle cx="865.38" cy="1094.11" r="6.75" fill="#bfbfbf"/><circle cx="917.91" cy="1010.60" r="6.75" fill="#bfbfbf"/><circle cx="973.60" cy="983.70" r="6.75" fill="#bfbfbf"/><circle cx="614.10" cy="1211.51" r="6.75" fill="#66c2a5"/><circle cx="642.57" cy="1194.04" r="6.75" fill="#66c2a5"/><circle cx="666.63" cy="1174.82" r="6.75" fill="#66c2a5"/><circle cx="687.48" cy="1173.77" r="6.75" fill="#66c2a5"/><circle cx="705.87" cy="1166.08" r="6.75" fill="#66c2a5"/><circle cx="722.32" cy="1161.19" r="6.75" fill="#66c2a5"/><circle cx="785.63" cy="1125.20" r="6.75" fill="#66c2a5"/><circle cx="865.38" cy="1119.61" r="6.75" fill="#66c2a5"/><circle cx="917.91" cy="1073.84" r="6.75" fill="#66c2a5"/><circle cx="973.60" cy="1033.31" r="6.75" fill="#66c2a5"/><circle cx="614.10" cy="1164.69" r="6.75" fill="#3288bd"/><circle cx="642.57" cy="1146.87" r="6.75" fill="#3288bd"/><circle cx="666.63" cy="1156.65" r="6.75" fill="#3288bd"/><circle cx="687.48" cy="1143.72" r="6.75" fill="#3288bd"/><circle cx="705.87" cy="1164.34" r="6.75" fill="#3288bd"/><circle cx="722.32" cy="1139.18" r="6.75" fill="#3288bd"/><circle cx="785.63" cy="1137.78" r="6.75" fill="#3288bd"/><circle cx="865.38" cy="1142.32" r="6.75" fill="#3288bd"/><circle cx="917.91" cy="1128.70" r="6.75" fill="#3288bd"/><circle cx="973.60" cy="1086.07" r="6.75" fill="#3288bd"/><circle cx="614.10" cy="1132.54" r="6.75" fill="#5e4fa2"/><circle cx="642.57" cy="1136.73" r="6.75" fill="#5e4fa2"/><circle cx="666.63" cy="1141.63" r="6.75" fill="#5e4fa2"/><circle cx="687.48" cy="1127.65" r="6.75" fill="#5e4fa2"/><circle cx="705.87" cy="1114.37" r="6.75" fill="#5e4fa2"/><circle cx="722.32" cy="1117.17" r="6.75" fill="#5e4fa2"/><circle cx="785.63" cy="1145.82" r="6.75" fill="#5e4fa2"/><circle cx="865.38" cy="1089.22" r="6.75" fill="#5e4fa2"/><circle cx="917.91" cy="1073.49" r="6.75" fill="#5e4fa2"/><circle cx="973.60" cy="1067.55" r="6.75" fill="#5e4fa2"/></g>
</svg></body></html>
